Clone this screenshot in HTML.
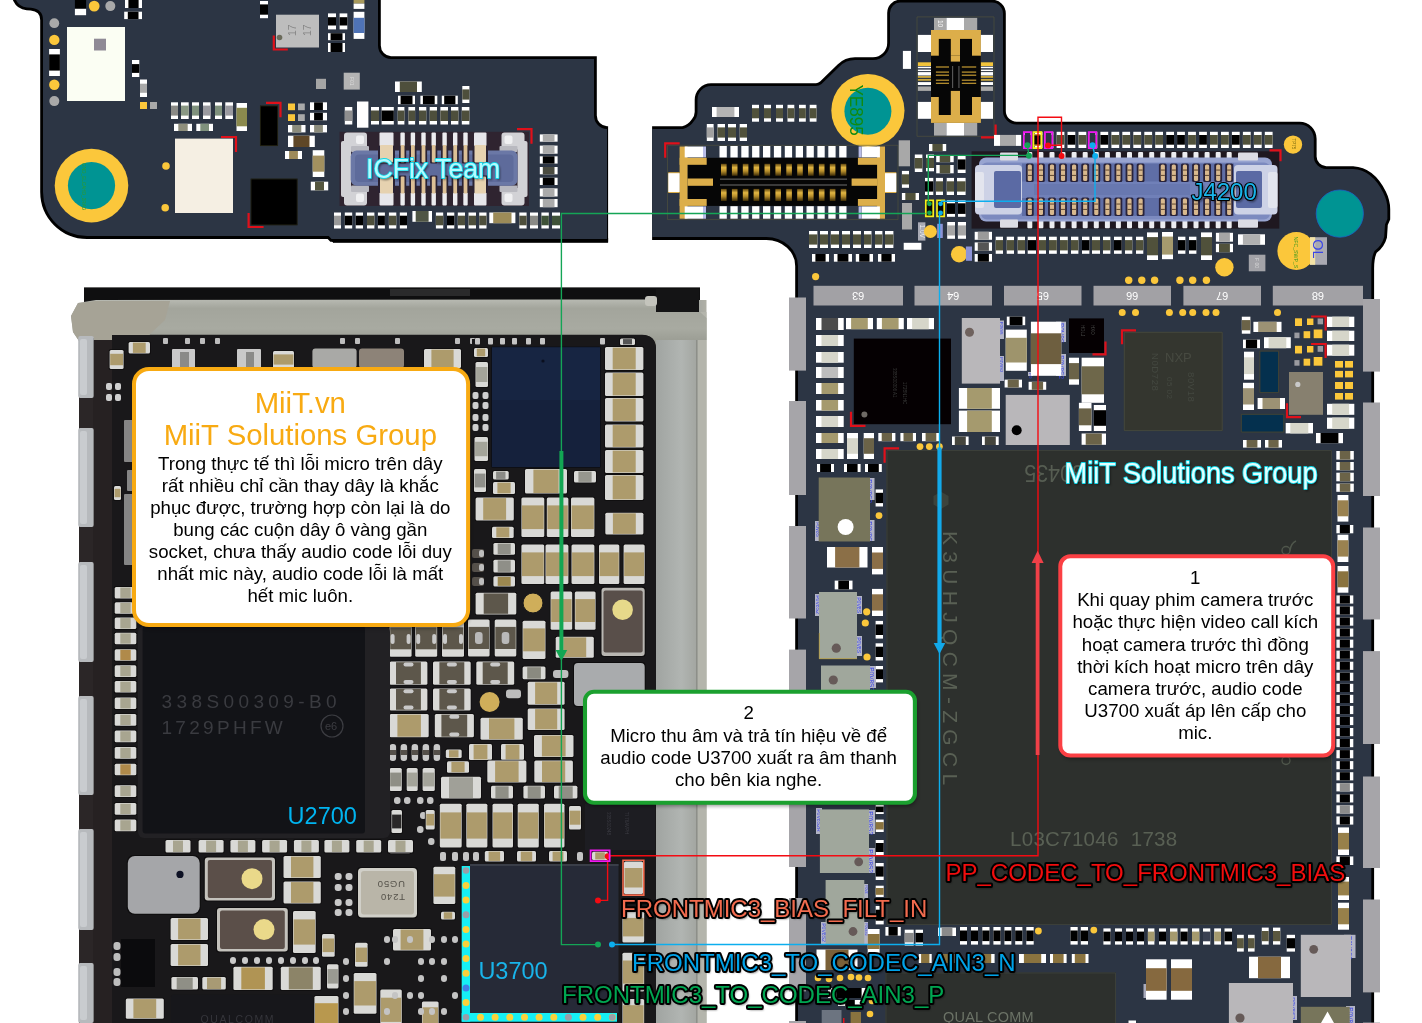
<!DOCTYPE html>
<html lang="vi"><head><meta charset="utf-8"><title>FRONTMIC3</title>
<style>
html,body{margin:0;padding:0;background:#fff;}
body{width:1422px;height:1023px;overflow:hidden;position:relative;font-family:"Liberation Sans",sans-serif;}
svg{position:absolute;left:0;top:0;display:block;will-change:transform;}
svg text{font-family:"Liberation Sans",sans-serif;}
.box{position:absolute;box-sizing:border-box;background:#fff;text-align:center;color:#000;font-size:18.67px;line-height:22.1px;}
</style></head><body>
<svg width="1422" height="1023" viewBox="0 0 1422 1023">
<path d="M16 0 Q19 6.5 27 7.5 L31 7.8 Q43 9 43 20 L43 192 A44 44.1 0 0 0 87 236.1 L328.7 236.1 L331.5 238.9 L607 238.9 L607 129 A13 13.5 0 0 1 594 115.5 L594 59 L391 59 A13 13.5 0 0 1 378 45.5 L378 0 Z" fill="#000" stroke="#000" stroke-width="5.6" stroke-linejoin="miter"/>
<rect x="608.1" y="122" width="3.9" height="124" fill="#fff"/>
<path d="M329.5 237 L333.3 240.8 L333.3 242.8 L329.5 239 Z" fill="#000"/>
<rect x="333" y="238" width="275.1" height="4.8" fill="#000"/>
<path d="M16 0 Q19 6.5 27 7.5 L31 7.8 Q43 9 43 20 L43 192 A44 44.1 0 0 0 87 236.1 L328.7 236.1 L331.5 238.9 L607 238.9 L607 129 A13 13.5 0 0 1 594 115.5 L594 59 L391 59 A13 13.5 0 0 1 378 45.5 L378 0 Z" fill="#2c3544"/>
<path d="M900 2.5 L992 2.5 A11 11 0 0 1 1003 13.5 L1003 111 A13.5 13.5 0 0 0 1016.5 124.5 L1299.5 124.5 A14.3 14.3 0 0 1 1313.8 138.8 L1313.8 156.5 A12.5 12.5 0 0 0 1326.3 169 L1353 169 Q1372 170 1383.3 192.7 Q1387.4 201 1387.4 209 L1387.4 219 L1385 224.5 L1384.2 237 Q1382 245.5 1374.5 251 Q1371.3 257 1371.3 268.4 L1371.3 1023 L798 1023 L798 266 A31.6 28.8 0 0 0 766.4 237.1 L652.1 237.1 L652.1 129 L683 129 Q690 127 694 121 Q697.5 117 697.5 112 L697.5 100 A13.5 14 0 0 1 711 86 L816 86 Q819 86 821.5 84 L839.5 66.5 Q846 60.1 855 60.1 L873 60.1 A17 17 0 0 0 890 43 L890 13 A10.3 10.5 0 0 1 900 2.5 Z" fill="#000" stroke="#000" stroke-width="5.6" stroke-linejoin="miter"/>
<rect x="647" y="122" width="5.1" height="122" fill="#fff"/>
<path d="M900 2.5 L992 2.5 A11 11 0 0 1 1003 13.5 L1003 111 A13.5 13.5 0 0 0 1016.5 124.5 L1299.5 124.5 A14.3 14.3 0 0 1 1313.8 138.8 L1313.8 156.5 A12.5 12.5 0 0 0 1326.3 169 L1353 169 Q1372 170 1383.3 192.7 Q1387.4 201 1387.4 209 L1387.4 219 L1385 224.5 L1384.2 237 Q1382 245.5 1374.5 251 Q1371.3 257 1371.3 268.4 L1371.3 1023 L798 1023 L798 266 A31.6 28.8 0 0 0 766.4 237.1 L652.1 237.1 L652.1 129 L683 129 Q690 127 694 121 Q697.5 117 697.5 112 L697.5 100 A13.5 14 0 0 1 711 86 L816 86 Q819 86 821.5 84 L839.5 66.5 Q846 60.1 855 60.1 L873 60.1 A17 17 0 0 0 890 43 L890 13 A10.3 10.5 0 0 1 900 2.5 Z" fill="#2c3544"/>
<rect x="789" y="297.5" width="17" height="73.1" fill="#a6a5a9"/>
<rect x="1363" y="299" width="17" height="72.6" fill="#a6a5a9"/>
<rect x="789" y="401" width="17" height="94" fill="#a6a5a9"/>
<rect x="1363" y="402.5" width="17" height="93.5" fill="#a6a5a9"/>
<rect x="789" y="526" width="17" height="92.5" fill="#a6a5a9"/>
<rect x="1363" y="527.5" width="17" height="92" fill="#a6a5a9"/>
<rect x="789" y="649.6" width="17" height="93.4" fill="#a6a5a9"/>
<rect x="1363" y="651.1" width="17" height="92.9" fill="#a6a5a9"/>
<rect x="789" y="775" width="17" height="92" fill="#a6a5a9"/>
<rect x="1363" y="776.5" width="17" height="91.5" fill="#a6a5a9"/>
<rect x="789" y="898" width="17" height="93.4" fill="#a6a5a9"/>
<rect x="1363" y="899.5" width="17" height="92.9" fill="#a6a5a9"/>
<rect x="789" y="1021" width="17" height="2" fill="#a6a5a9"/>
<rect x="1363" y="1022.5" width="17" height="1.5" fill="#a6a5a9"/>
<rect x="813.5" y="285.8" width="89.5" height="19.7" fill="#a2a1a5"/>
<text x="858.2" y="299.6" font-size="11" fill="#fff" text-anchor="middle" transform="rotate(180 858.2 295.8)">63</text>
<rect x="914.5" y="285.8" width="77.5" height="19.7" fill="#a2a1a5"/>
<text x="953.2" y="299.6" font-size="11" fill="#fff" text-anchor="middle" transform="rotate(180 953.2 295.8)">64</text>
<rect x="1004" y="285.8" width="77.5" height="19.7" fill="#a2a1a5"/>
<text x="1042.8" y="299.6" font-size="11" fill="#fff" text-anchor="middle" transform="rotate(180 1042.8 295.8)">65</text>
<rect x="1093.5" y="285.8" width="77.5" height="19.7" fill="#a2a1a5"/>
<text x="1132.2" y="299.6" font-size="11" fill="#fff" text-anchor="middle" transform="rotate(180 1132.2 295.8)">66</text>
<rect x="1183.4" y="285.8" width="77.6" height="19.7" fill="#a2a1a5"/>
<text x="1222.2" y="299.6" font-size="11" fill="#fff" text-anchor="middle" transform="rotate(180 1222.2 295.8)">67</text>
<rect x="1272.8" y="285.8" width="90.2" height="19.7" fill="#a2a1a5"/>
<text x="1317.9" y="299.6" font-size="11" fill="#fff" text-anchor="middle" transform="rotate(180 1317.9 295.8)">68</text>
<rect x="886.5" y="450" width="445.5" height="475" fill="#2d302d"/>
<path d="M887 450.5 L1331.5 450.5 L1331.5 924.5 L887 924.5 Z" fill="none" stroke="#3b3f39" stroke-width="1"/>
<text x="0" y="0" font-size="21.5" fill="#565d52" transform="translate(1084 465.2) rotate(180) scale(1 1.1)">30435</text>
<text x="0" y="0" font-size="21" fill="#596054" transform="translate(943.3 531) rotate(90)" letter-spacing="6.3">K3UHJQCM-ZGCL</text>
<text x="1010" y="846" font-size="20.5" fill="#596054" letter-spacing="0.3">L03C71046&#160;&#160;1738</text>
<path d="M933.5 496 l7.5 -4.3 l7.5 4.3 v8.6 l-7.5 4.3 l-7.5 -4.3 z" fill="#3d433c"/>
<circle cx="1286" cy="550.5" r="4" fill="none" stroke="#4f564b" stroke-width="1.4"/>
<path d="M1290 550.5 Q1291 543 1296 541" fill="none" stroke="#4f564b" stroke-width="1.4"/>
<circle cx="1286" cy="760.5" r="4" fill="none" stroke="#4f564b" stroke-width="1.4"/>
<rect x="885.5" y="972.5" width="230.5" height="50.5" fill="#2d302d"/>
<path d="M886 1023 L886 973 L1115.5 973 L1115.5 1023" fill="none" stroke="#3b3f39" stroke-width="1"/>
<text x="943" y="1022" font-size="14.5" fill="#6b7266" letter-spacing="0.2">QUAL COMM</text>
<rect x="74.9" y="0" width="11.2" height="8.8" fill="#000000"/>
<rect x="74.9" y="8.8" width="11.2" height="6.4" fill="#fff"/>
<circle cx="94.2" cy="6.1" r="5.4" fill="#fbc73b"/>
<circle cx="110.3" cy="6.1" r="5" fill="#a9a9a9"/>
<rect x="125" y="-2" width="17" height="10" fill="#ffffff"/>
<rect x="128.4" y="-2" width="10.2" height="10" fill="#000000"/>
<rect x="124.2" y="11.7" width="17.8" height="7.4" fill="#ffffff"/>
<rect x="127.8" y="11.7" width="10.7" height="7.4" fill="#000000"/>
<circle cx="54.3" cy="23.2" r="4.9" fill="#a9a9a9"/>
<circle cx="54.3" cy="39.9" r="5.2" fill="#fbc73b"/>
<rect x="49.1" y="49" width="10.8" height="27" fill="#ffffff"/>
<rect x="49.1" y="54.4" width="10.8" height="16.2" fill="#000000"/>
<circle cx="54.3" cy="84.7" r="5.2" fill="#fbc73b"/>
<circle cx="54.3" cy="101.1" r="5" fill="#a9a9a9"/>
<rect x="67" y="27" width="58" height="74" fill="#fbfef3"/>
<rect x="94" y="38.7" width="12" height="11.8" fill="#8f8a95"/>
<rect x="132" y="60" width="7.3" height="17" fill="#ffffff"/>
<rect x="132" y="64.1" width="7.3" height="8.8" fill="#000000"/>
<rect x="140" y="79.5" width="7" height="17.5" fill="#ffffff"/>
<rect x="140" y="83.7" width="7" height="9.1" fill="#a9a9a9"/>
<rect x="140" y="102" width="7" height="7" fill="#fbc73b"/>
<rect x="150" y="102" width="7" height="7" fill="#a9a9a9"/>
<rect x="171" y="102.3" width="7" height="16.7" fill="#ffffff"/>
<rect x="171" y="105.6" width="7" height="10" fill="#8a8a86"/>
<rect x="181" y="102.3" width="7.7" height="16.7" fill="#ffffff"/>
<rect x="181" y="105.6" width="7.7" height="10" fill="#8a9884"/>
<rect x="192" y="102.3" width="7" height="16.7" fill="#ffffff"/>
<rect x="192" y="105.6" width="7" height="10" fill="#7f917d"/>
<rect x="203" y="102.3" width="7.5" height="16.7" fill="#ffffff"/>
<rect x="203" y="105.6" width="7.5" height="10" fill="#9a9aa0"/>
<rect x="215" y="102.3" width="7" height="16.7" fill="#ffffff"/>
<rect x="215" y="105.6" width="7" height="10" fill="#7f917d"/>
<rect x="225.3" y="102.3" width="7.7" height="16.7" fill="#ffffff"/>
<rect x="225.3" y="105.6" width="7.7" height="10" fill="#9a9aa0"/>
<rect x="236.5" y="103" width="10.5" height="28" fill="#ffffff"/>
<rect x="236.5" y="107.8" width="10.5" height="18.5" fill="#8b8a4e"/>
<rect x="174" y="123.8" width="18" height="7.2" fill="#ffffff"/>
<rect x="178.3" y="123.8" width="9.4" height="7.2" fill="#8f8f7c"/>
<rect x="196.3" y="123.8" width="16.7" height="7.2" fill="#ffffff"/>
<rect x="200.3" y="123.8" width="8.7" height="7.2" fill="#7f917d"/>
<rect x="175" y="138.6" width="58" height="74.4" fill="#f5efe3"/>
<path d="M221 137 L236 137 L236 152" fill="none" stroke="#e0101a" stroke-width="2.2"/>
<circle cx="166" cy="166" r="3.8" fill="#fbc73b"/>
<circle cx="165.2" cy="207.8" r="3.8" fill="#fbc73b"/>
<circle cx="91.5" cy="185.6" r="36.8" fill="#fbc73b"/>
<circle cx="91.5" cy="185.6" r="23.6" fill="#009493"/>
<text x="0" y="0" font-size="4.7" fill="#2f9a2a" transform="translate(82.3 163) rotate(90)">GND_ELCAHD_2RAD</text>
<rect x="260" y="105.6" width="18" height="40.4" fill="#000000"/>
<path d="M260.3 105.9 h17.4 v39.8 h-17.4 z" fill="none" stroke="#3a3a20" stroke-width="0.6"/>
<path d="M266 102.8 L280.5 102.8 L280.5 117.3" fill="none" stroke="#e0101a" stroke-width="2.2"/>
<rect x="250.7" y="178.7" width="46.8" height="46.5" fill="#000000"/>
<path d="M251 179 h46.2 v45.9 h-46.2 z" fill="none" stroke="#33331f" stroke-width="0.6"/>
<path d="M263.6 227 L248.6 227 L248.6 213" fill="none" stroke="#e0101a" stroke-width="2.2"/>
<rect x="288" y="103.5" width="7" height="6.7" fill="#fbc73b"/>
<rect x="298" y="103.5" width="6.8" height="6.7" fill="#a9a9a9"/>
<rect x="288" y="114.2" width="7" height="6.8" fill="#fbc73b"/>
<rect x="298" y="114.2" width="6.8" height="6.8" fill="#a9a9a9"/>
<rect x="310" y="102.3" width="17" height="7.7" fill="#ffffff"/>
<rect x="314.1" y="102.3" width="8.8" height="7.7" fill="#000000"/>
<rect x="310" y="112.8" width="17" height="7.6" fill="#ffffff"/>
<rect x="314.1" y="112.8" width="8.8" height="7.6" fill="#000000"/>
<rect x="288" y="125" width="17.5" height="7.4" fill="#ffffff"/>
<rect x="292.2" y="125" width="9.1" height="7.4" fill="#8c8c7c"/>
<rect x="310" y="125" width="17" height="7.4" fill="#ffffff"/>
<rect x="314.1" y="125" width="8.8" height="7.4" fill="#8c8c7c"/>
<rect x="288" y="135.7" width="26.8" height="11.3" fill="#ffffff"/>
<rect x="293.4" y="135.7" width="16.1" height="11.3" fill="#5f4727"/>
<rect x="285" y="151" width="17" height="8" fill="#ffffff"/>
<rect x="289.1" y="151" width="8.8" height="8" fill="#9d8a5a"/>
<rect x="312.7" y="150.2" width="11.6" height="26.8" fill="#ffffff"/>
<rect x="312.7" y="155.6" width="11.6" height="16.1" fill="#a2905f"/>
<rect x="310.8" y="181.7" width="17.4" height="8.7" fill="#ffffff"/>
<rect x="315" y="181.7" width="9" height="8.7" fill="#55563f"/>
<rect x="276" y="14.7" width="43" height="32.8" fill="#bdbdbd"/>
<circle cx="279.5" cy="37.5" r="2.8" fill="#6a6a5a"/>
<path d="M287.8 49.5 L273.8 49.5 L273.8 35.5" fill="none" stroke="#e0101a" stroke-width="2.2"/>
<text x="0" y="0" font-size="10.5" fill="#858585" transform="translate(296 36) rotate(-90)">17</text>
<text x="0" y="0" font-size="10.5" fill="#858585" transform="translate(311 36) rotate(-90)">17</text>
<rect x="260" y="1" width="8" height="17.2" fill="#ffffff"/>
<rect x="260" y="4.4" width="8" height="10.3" fill="#000000"/>
<rect x="328" y="13.4" width="8" height="16" fill="#ffffff"/>
<rect x="328" y="17.2" width="8" height="8.3" fill="#000000"/>
<rect x="339.6" y="13.4" width="7.7" height="16" fill="#ffffff"/>
<rect x="339.6" y="17.2" width="7.7" height="8.3" fill="#000000"/>
<rect x="328" y="33.2" width="17" height="7" fill="#ffffff"/>
<rect x="330.6" y="33.2" width="11.9" height="7" fill="#000000"/>
<rect x="328" y="43" width="17" height="9" fill="#ffffff"/>
<rect x="330.6" y="43" width="11.9" height="9" fill="#000000"/>
<rect x="353.6" y="-2" width="10.8" height="5.6" fill="#a89a5c"/>
<rect x="353.6" y="3.6" width="10.8" height="5.3" fill="#fff"/>
<rect x="353.6" y="11.8" width="10.8" height="27.1" fill="#ffffff"/>
<rect x="353.6" y="17.8" width="10.8" height="15.2" fill="#4f73b6"/>
<rect x="316" y="78.8" width="10" height="10.2" fill="#a5a5a5"/>
<rect x="343.7" y="72.7" width="16.1" height="16.9" fill="#b4b4b4"/>
<text x="0" y="0" font-size="5" fill="#ddd" transform="translate(350 77) rotate(90)">F01</text>
<rect x="395" y="81.5" width="26.8" height="10.5" fill="#ffffff"/>
<rect x="399.8" y="81.5" width="17.2" height="10.5" fill="#4e4f3c"/>
<rect x="462.3" y="86" width="7.1" height="17" fill="#ffffff"/>
<rect x="462.3" y="89.4" width="7.1" height="10.2" fill="#4e4f3c"/>
<rect x="398" y="95.7" width="17" height="8.5" fill="#ffffff"/>
<rect x="400.6" y="95.7" width="11.9" height="8.5" fill="#000000"/>
<rect x="420.4" y="95.7" width="16.9" height="8.5" fill="#ffffff"/>
<rect x="422.9" y="95.7" width="11.8" height="8.5" fill="#000000"/>
<rect x="441.8" y="95.7" width="16" height="8.5" fill="#ffffff"/>
<rect x="444.2" y="95.7" width="11.2" height="8.5" fill="#000000"/>
<rect x="344.8" y="107" width="7.5" height="17.5" fill="#ffffff"/>
<rect x="344.8" y="110.5" width="7.5" height="10.5" fill="#8f8f8f"/>
<rect x="357" y="101.5" width="11.4" height="26.2" fill="#fff"/>
<rect x="371" y="107" width="8" height="17.5" fill="#ffffff"/>
<rect x="371" y="110.5" width="8" height="10.5" fill="#4e4f3c"/>
<rect x="381.6" y="107" width="12.2" height="17.5" fill="#ffffff"/>
<rect x="381.6" y="110.5" width="12.2" height="10.5" fill="#000000"/>
<rect x="397.7" y="107" width="6.7" height="17.5" fill="#ffffff"/>
<rect x="397.7" y="110.5" width="6.7" height="10.5" fill="#4e4f3c"/>
<rect x="408.4" y="107" width="6.7" height="17.5" fill="#ffffff"/>
<rect x="408.4" y="110.5" width="6.7" height="10.5" fill="#4e4f3c"/>
<rect x="419" y="107" width="7.3" height="17.5" fill="#ffffff"/>
<rect x="419" y="110.5" width="7.3" height="10.5" fill="#4e4f3c"/>
<rect x="429.7" y="107" width="7.3" height="17.5" fill="#ffffff"/>
<rect x="429.7" y="110.5" width="7.3" height="10.5" fill="#4e4f3c"/>
<rect x="440.4" y="107" width="7.6" height="17.5" fill="#ffffff"/>
<rect x="440.4" y="110.5" width="7.6" height="10.5" fill="#4e4f3c"/>
<rect x="451" y="107" width="7.4" height="17.5" fill="#ffffff"/>
<rect x="451" y="110.5" width="7.4" height="10.5" fill="#4e4f3c"/>
<rect x="461.8" y="107" width="7.6" height="17.5" fill="#ffffff"/>
<rect x="461.8" y="110.5" width="7.6" height="10.5" fill="#4e4f3c"/>
<rect x="539.8" y="134.4" width="17.8" height="7.3" fill="#ffffff"/>
<rect x="542.8" y="134.4" width="11.7" height="7.3" fill="#aaa"/>
<rect x="539.8" y="145.6" width="17.8" height="8.1" fill="#ffffff"/>
<rect x="542.8" y="145.6" width="11.7" height="8.1" fill="#aaa"/>
<rect x="539.8" y="156.3" width="17.8" height="7.3" fill="#ffffff"/>
<rect x="542.8" y="156.3" width="11.7" height="7.3" fill="#000000"/>
<rect x="539.8" y="167" width="17.8" height="7.3" fill="#ffffff"/>
<rect x="542.8" y="167" width="11.7" height="7.3" fill="#4a4b40"/>
<rect x="539.8" y="177.7" width="17.8" height="7.3" fill="#ffffff"/>
<rect x="542.8" y="177.7" width="11.7" height="7.3" fill="#000000"/>
<rect x="539.8" y="188.4" width="17.8" height="8.1" fill="#ffffff"/>
<rect x="542.8" y="188.4" width="11.7" height="8.1" fill="#aaa"/>
<rect x="539.8" y="199" width="17.8" height="8.2" fill="#ffffff"/>
<rect x="542.8" y="199" width="11.7" height="8.2" fill="#aaa"/>
<rect x="334" y="212.5" width="7" height="16" fill="#ffffff"/>
<rect x="334" y="215.7" width="7" height="9.6" fill="#9a9a9a"/>
<rect x="344.8" y="212.5" width="7.4" height="16" fill="#ffffff"/>
<rect x="344.8" y="215.7" width="7.4" height="9.6" fill="#000000"/>
<rect x="355.7" y="212.5" width="7.3" height="16" fill="#ffffff"/>
<rect x="355.7" y="215.7" width="7.3" height="9.6" fill="#000000"/>
<rect x="367" y="212.5" width="7.4" height="16" fill="#ffffff"/>
<rect x="367" y="215.7" width="7.4" height="9.6" fill="#4e4f3c"/>
<rect x="377.9" y="212.5" width="7" height="16" fill="#ffffff"/>
<rect x="377.9" y="215.7" width="7" height="9.6" fill="#000000"/>
<rect x="388.9" y="212.5" width="7.4" height="16" fill="#ffffff"/>
<rect x="388.9" y="215.7" width="7.4" height="9.6" fill="#4e4f3c"/>
<rect x="399.8" y="212.5" width="7.2" height="16" fill="#ffffff"/>
<rect x="399.8" y="215.7" width="7.2" height="9.6" fill="#000000"/>
<rect x="412.4" y="211" width="19.6" height="10.8" fill="#ffffff"/>
<rect x="415.7" y="211" width="12.9" height="10.8" fill="#4f5544"/>
<rect x="435.9" y="212.5" width="7.3" height="16" fill="#ffffff"/>
<rect x="435.9" y="215.7" width="7.3" height="9.6" fill="#4e4f3c"/>
<rect x="447" y="212.5" width="7.3" height="16" fill="#ffffff"/>
<rect x="447" y="215.7" width="7.3" height="9.6" fill="#000000"/>
<rect x="457.8" y="212.5" width="7.2" height="16" fill="#ffffff"/>
<rect x="457.8" y="215.7" width="7.2" height="9.6" fill="#4e4f3c"/>
<rect x="468.5" y="212.5" width="7.5" height="16" fill="#ffffff"/>
<rect x="468.5" y="215.7" width="7.5" height="9.6" fill="#4e4f3c"/>
<rect x="479.2" y="212.5" width="7.3" height="16" fill="#ffffff"/>
<rect x="479.2" y="215.7" width="7.3" height="9.6" fill="#4e4f3c"/>
<rect x="489.3" y="212.5" width="26.1" height="10.7" fill="#ffffff"/>
<rect x="493.2" y="212.5" width="18.3" height="10.7" fill="#9c8b58"/>
<rect x="519.3" y="212.5" width="7.3" height="16" fill="#ffffff"/>
<rect x="519.3" y="215.7" width="7.3" height="9.6" fill="#4e4f3c"/>
<rect x="530" y="212.5" width="8" height="16" fill="#ffffff"/>
<rect x="530" y="215.7" width="8" height="9.6" fill="#8a8a86"/>
<rect x="541.4" y="212.5" width="7.4" height="16" fill="#ffffff"/>
<rect x="541.4" y="215.7" width="7.4" height="9.6" fill="#3f5238"/>
<rect x="552" y="212.5" width="8" height="16" fill="#ffffff"/>
<rect x="552" y="215.7" width="8" height="9.6" fill="#3f5238"/>
<rect x="339.5" y="131.8" width="189.5" height="74.2" fill="#2f2430"/>
<rect x="341" y="141" width="10" height="56" fill="#d2d2d6" rx="2"/>
<rect x="344" y="132.6" width="23" height="16.9" fill="#d2d2d6" rx="3"/>
<rect x="344" y="188" width="23" height="17.5" fill="#d2d2d6" rx="3"/>
<rect x="351" y="146" width="18" height="6" fill="#b9b9c0" rx="1"/>
<rect x="351" y="185.5" width="18" height="6.5" fill="#b9b9c0" rx="1"/>
<rect x="356" y="135.5" width="8" height="8.5" fill="#f0f0f2" rx="2"/>
<rect x="356" y="193.5" width="8" height="8.5" fill="#f0f0f2" rx="2"/>
<rect x="517.5" y="141" width="10" height="56" fill="#d2d2d6" rx="2"/>
<rect x="501.5" y="132.6" width="23" height="16.9" fill="#d2d2d6" rx="3"/>
<rect x="501.5" y="188" width="23" height="17.5" fill="#d2d2d6" rx="3"/>
<rect x="499.5" y="146" width="18" height="6" fill="#b9b9c0" rx="1"/>
<rect x="499.5" y="185.5" width="18" height="6.5" fill="#b9b9c0" rx="1"/>
<rect x="504.5" y="135.5" width="8" height="8.5" fill="#f0f0f2" rx="2"/>
<rect x="504.5" y="193.5" width="8" height="8.5" fill="#f0f0f2" rx="2"/>
<rect x="400.4" y="132.6" width="4.4" height="13.4" fill="#ececf0" rx="1"/>
<rect x="400.4" y="192.5" width="4.4" height="13" fill="#ececf0" rx="1"/>
<rect x="410.7" y="132.6" width="4.4" height="13.4" fill="#ececf0" rx="1"/>
<rect x="410.7" y="192.5" width="4.4" height="13" fill="#ececf0" rx="1"/>
<rect x="421.3" y="132.6" width="4.4" height="13.4" fill="#ececf0" rx="1"/>
<rect x="421.3" y="192.5" width="4.4" height="13" fill="#ececf0" rx="1"/>
<rect x="431.5" y="132.6" width="4.4" height="13.4" fill="#ececf0" rx="1"/>
<rect x="431.5" y="192.5" width="4.4" height="13" fill="#ececf0" rx="1"/>
<rect x="442.4" y="132.6" width="4.4" height="13.4" fill="#ececf0" rx="1"/>
<rect x="442.4" y="192.5" width="4.4" height="13" fill="#ececf0" rx="1"/>
<rect x="453" y="132.6" width="4.4" height="13.4" fill="#ececf0" rx="1"/>
<rect x="453" y="192.5" width="4.4" height="13" fill="#ececf0" rx="1"/>
<rect x="463.3" y="132.6" width="4.4" height="13.4" fill="#ececf0" rx="1"/>
<rect x="463.3" y="192.5" width="4.4" height="13" fill="#ececf0" rx="1"/>
<rect x="379.5" y="132.6" width="14" height="13.4" fill="#e6e6ea" rx="1"/>
<rect x="379.5" y="192.5" width="14" height="13" fill="#e6e6ea" rx="1"/>
<rect x="474" y="132.6" width="12.5" height="13.4" fill="#e6e6ea" rx="1"/>
<rect x="474" y="192.5" width="12.5" height="13" fill="#e6e6ea" rx="1"/>
<rect x="350.7" y="150.5" width="166.9" height="35.3" fill="#6b78a6" rx="6"/>
<rect x="355" y="154.5" width="158.5" height="27.5" fill="#5e6b9b" rx="4"/>
<rect x="399" y="146" width="7.2" height="17.5" fill="#2a2233" rx="1"/>
<rect x="399" y="175.5" width="7.2" height="17" fill="#2a2233" rx="1"/>
<rect x="400.7" y="145" width="3.8" height="17.5" fill="#dcc096" rx="1"/>
<rect x="400.7" y="176.5" width="3.8" height="17" fill="#dcc096" rx="1"/>
<rect x="409.3" y="146" width="7.2" height="17.5" fill="#2a2233" rx="1"/>
<rect x="409.3" y="175.5" width="7.2" height="17" fill="#2a2233" rx="1"/>
<rect x="411" y="145" width="3.8" height="17.5" fill="#dcc096" rx="1"/>
<rect x="411" y="176.5" width="3.8" height="17" fill="#dcc096" rx="1"/>
<rect x="419.9" y="146" width="7.2" height="17.5" fill="#2a2233" rx="1"/>
<rect x="419.9" y="175.5" width="7.2" height="17" fill="#2a2233" rx="1"/>
<rect x="421.6" y="145" width="3.8" height="17.5" fill="#dcc096" rx="1"/>
<rect x="421.6" y="176.5" width="3.8" height="17" fill="#dcc096" rx="1"/>
<rect x="430.1" y="146" width="7.2" height="17.5" fill="#2a2233" rx="1"/>
<rect x="430.1" y="175.5" width="7.2" height="17" fill="#2a2233" rx="1"/>
<rect x="431.8" y="145" width="3.8" height="17.5" fill="#dcc096" rx="1"/>
<rect x="431.8" y="176.5" width="3.8" height="17" fill="#dcc096" rx="1"/>
<rect x="441" y="146" width="7.2" height="17.5" fill="#2a2233" rx="1"/>
<rect x="441" y="175.5" width="7.2" height="17" fill="#2a2233" rx="1"/>
<rect x="442.7" y="145" width="3.8" height="17.5" fill="#dcc096" rx="1"/>
<rect x="442.7" y="176.5" width="3.8" height="17" fill="#dcc096" rx="1"/>
<rect x="451.6" y="146" width="7.2" height="17.5" fill="#2a2233" rx="1"/>
<rect x="451.6" y="175.5" width="7.2" height="17" fill="#2a2233" rx="1"/>
<rect x="453.3" y="145" width="3.8" height="17.5" fill="#dcc096" rx="1"/>
<rect x="453.3" y="176.5" width="3.8" height="17" fill="#dcc096" rx="1"/>
<rect x="461.9" y="146" width="7.2" height="17.5" fill="#2a2233" rx="1"/>
<rect x="461.9" y="175.5" width="7.2" height="17" fill="#2a2233" rx="1"/>
<rect x="463.6" y="145" width="3.8" height="17.5" fill="#dcc096" rx="1"/>
<rect x="463.6" y="176.5" width="3.8" height="17" fill="#dcc096" rx="1"/>
<rect x="378" y="146" width="17" height="17.5" fill="#2a2233" rx="1"/>
<rect x="378" y="175.5" width="17" height="17" fill="#2a2233" rx="1"/>
<rect x="380" y="145" width="13" height="17.5" fill="#e6d2b0" rx="1"/>
<rect x="380" y="176.5" width="13" height="17" fill="#e6d2b0" rx="1"/>
<rect x="472.5" y="146" width="15.5" height="17.5" fill="#2a2233" rx="1"/>
<rect x="472.5" y="175.5" width="15.5" height="17" fill="#2a2233" rx="1"/>
<rect x="474.5" y="145" width="11.5" height="17.5" fill="#e6d2b0" rx="1"/>
<rect x="474.5" y="176.5" width="11.5" height="17" fill="#e6d2b0" rx="1"/>
<path d="M517 129.2 L531.5 129.2 L531.5 143.7" fill="none" stroke="#e0101a" stroke-width="2.2"/>
<rect x="712" y="107" width="27" height="10" fill="#ffffff"/>
<rect x="716.6" y="107" width="17.8" height="10" fill="#b4b4b4"/>
<rect x="752" y="104.8" width="7" height="16.9" fill="#ffffff"/>
<rect x="752" y="108.2" width="7" height="10.1" fill="#50513b"/>
<rect x="764" y="104.8" width="7" height="16.9" fill="#ffffff"/>
<rect x="764" y="108.2" width="7" height="10.1" fill="#50513b"/>
<rect x="776" y="104.8" width="7" height="16.9" fill="#ffffff"/>
<rect x="776" y="108.2" width="7" height="10.1" fill="#50513b"/>
<rect x="787.5" y="104.8" width="6.8" height="16.9" fill="#ffffff"/>
<rect x="787.5" y="108.2" width="6.8" height="10.1" fill="#50513b"/>
<rect x="799" y="104.8" width="6.8" height="16.9" fill="#ffffff"/>
<rect x="799" y="108.2" width="6.8" height="10.1" fill="#50513b"/>
<rect x="809.7" y="104.8" width="6.8" height="16.9" fill="#ffffff"/>
<rect x="809.7" y="108.2" width="6.8" height="10.1" fill="#50513b"/>
<rect x="706.8" y="124" width="6.8" height="17" fill="#ffffff"/>
<rect x="706.8" y="127.4" width="6.8" height="10.2" fill="#a0a0a0"/>
<rect x="717.5" y="124" width="7.5" height="17" fill="#ffffff"/>
<rect x="717.5" y="127.4" width="7.5" height="10.2" fill="#50513b"/>
<rect x="728" y="124" width="8" height="17" fill="#ffffff"/>
<rect x="728" y="127.4" width="8" height="10.2" fill="#50513b"/>
<rect x="739.7" y="124" width="7.3" height="17" fill="#ffffff"/>
<rect x="739.7" y="127.4" width="7.3" height="10.2" fill="#50513b"/>
<circle cx="867.9" cy="110.5" r="36.6" fill="#fbc73b"/>
<circle cx="867.9" cy="111.2" r="23.5" fill="#009493"/>
<text x="0" y="0" font-size="17.1" fill="#108a10" transform="translate(849.8 84.4) rotate(90) scale(1 1.07)">YE895</text>
<defs><linearGradient id="gc" x1="0" y1="0" x2="0" y2="1"><stop offset="0" stop-color="#5e450f"/><stop offset="0.32" stop-color="#e2b643"/><stop offset="0.6" stop-color="#b88f2c"/><stop offset="1" stop-color="#3d2c07"/></linearGradient></defs>
<path d="M667.5 145.3 H898 V219.6 H667.5 Z" fill="none" stroke="#55563a" stroke-width="0.6"/>
<rect x="719.5" y="146" width="7.3" height="11.6" fill="#fff"/>
<rect x="719.5" y="206.2" width="7.3" height="12.5" fill="#fff"/>
<rect x="730.4" y="146" width="7.3" height="11.6" fill="#fff"/>
<rect x="730.4" y="206.2" width="7.3" height="12.5" fill="#fff"/>
<rect x="741.3" y="146" width="7.3" height="11.6" fill="#fff"/>
<rect x="741.3" y="206.2" width="7.3" height="12.5" fill="#fff"/>
<rect x="752.1" y="146" width="7.3" height="11.6" fill="#fff"/>
<rect x="752.1" y="206.2" width="7.3" height="12.5" fill="#fff"/>
<rect x="763" y="146" width="7.3" height="11.6" fill="#fff"/>
<rect x="763" y="206.2" width="7.3" height="12.5" fill="#fff"/>
<rect x="773.9" y="146" width="7.3" height="11.6" fill="#fff"/>
<rect x="773.9" y="206.2" width="7.3" height="12.5" fill="#fff"/>
<rect x="784.8" y="146" width="7.3" height="11.6" fill="#fff"/>
<rect x="784.8" y="206.2" width="7.3" height="12.5" fill="#fff"/>
<rect x="795.7" y="146" width="7.3" height="11.6" fill="#fff"/>
<rect x="795.7" y="206.2" width="7.3" height="12.5" fill="#fff"/>
<rect x="806.5" y="146" width="7.3" height="11.6" fill="#fff"/>
<rect x="806.5" y="206.2" width="7.3" height="12.5" fill="#fff"/>
<rect x="817.4" y="146" width="7.3" height="11.6" fill="#fff"/>
<rect x="817.4" y="206.2" width="7.3" height="12.5" fill="#fff"/>
<rect x="828.3" y="146" width="7.3" height="11.6" fill="#fff"/>
<rect x="828.3" y="206.2" width="7.3" height="12.5" fill="#fff"/>
<rect x="839.2" y="146" width="7.3" height="11.6" fill="#fff"/>
<rect x="839.2" y="206.2" width="7.3" height="12.5" fill="#fff"/>
<rect x="687.5" y="157.8" width="190.1" height="48.1" fill="#060606"/>
<rect x="679.6" y="146.5" width="7.9" height="72.2" fill="#dcae4a"/>
<rect x="679.6" y="157.8" width="27.1" height="7" fill="#dcae4a"/>
<rect x="679.6" y="199" width="27.1" height="6.9" fill="#dcae4a"/>
<rect x="687.5" y="178.5" width="25.5" height="7.3" fill="#dcae4a"/>
<rect x="684.7" y="146.5" width="18.3" height="10.9" fill="#fff"/>
<rect x="684.7" y="206.4" width="18.3" height="12.3" fill="#fff"/>
<rect x="703" y="146.5" width="3" height="10.9" fill="#b9bde8"/>
<rect x="703" y="206.4" width="3" height="12.3" fill="#b9bde8"/>
<rect x="668.3" y="172.2" width="11.3" height="20.8" fill="#dcae4a"/>
<rect x="668.3" y="173.2" width="11.3" height="18.8" fill="#fff"/>
<rect x="877.1" y="146.5" width="7.9" height="72.2" fill="#dcae4a"/>
<rect x="857.9" y="157.8" width="27.1" height="7" fill="#dcae4a"/>
<rect x="857.9" y="199" width="27.1" height="6.9" fill="#dcae4a"/>
<rect x="851.6" y="178.5" width="25.5" height="7.3" fill="#dcae4a"/>
<rect x="861.6" y="146.5" width="18.3" height="10.9" fill="#fff"/>
<rect x="861.6" y="206.4" width="18.3" height="12.3" fill="#fff"/>
<rect x="858.6" y="146.5" width="3" height="10.9" fill="#b9bde8"/>
<rect x="858.6" y="206.4" width="3" height="12.3" fill="#b9bde8"/>
<rect x="885" y="172.2" width="11.3" height="20.8" fill="#dcae4a"/>
<rect x="885" y="173.2" width="11.3" height="18.8" fill="#fff"/>
<rect x="721" y="163.8" width="5.6" height="12" fill="url(#gc)"/>
<rect x="721" y="188.9" width="5.6" height="12.1" fill="url(#gc)"/>
<rect x="731.9" y="163.8" width="5.6" height="12" fill="url(#gc)"/>
<rect x="731.9" y="188.9" width="5.6" height="12.1" fill="url(#gc)"/>
<rect x="742.8" y="163.8" width="5.6" height="12" fill="url(#gc)"/>
<rect x="742.8" y="188.9" width="5.6" height="12.1" fill="url(#gc)"/>
<rect x="753.6" y="163.8" width="5.6" height="12" fill="url(#gc)"/>
<rect x="753.6" y="188.9" width="5.6" height="12.1" fill="url(#gc)"/>
<rect x="764.5" y="163.8" width="5.6" height="12" fill="url(#gc)"/>
<rect x="764.5" y="188.9" width="5.6" height="12.1" fill="url(#gc)"/>
<rect x="775.4" y="163.8" width="5.6" height="12" fill="url(#gc)"/>
<rect x="775.4" y="188.9" width="5.6" height="12.1" fill="url(#gc)"/>
<rect x="786.3" y="163.8" width="5.6" height="12" fill="url(#gc)"/>
<rect x="786.3" y="188.9" width="5.6" height="12.1" fill="url(#gc)"/>
<rect x="797.2" y="163.8" width="5.6" height="12" fill="url(#gc)"/>
<rect x="797.2" y="188.9" width="5.6" height="12.1" fill="url(#gc)"/>
<rect x="808" y="163.8" width="5.6" height="12" fill="url(#gc)"/>
<rect x="808" y="188.9" width="5.6" height="12.1" fill="url(#gc)"/>
<rect x="818.9" y="163.8" width="5.6" height="12" fill="url(#gc)"/>
<rect x="818.9" y="188.9" width="5.6" height="12.1" fill="url(#gc)"/>
<rect x="829.8" y="163.8" width="5.6" height="12" fill="url(#gc)"/>
<rect x="829.8" y="188.9" width="5.6" height="12.1" fill="url(#gc)"/>
<rect x="840.7" y="163.8" width="5.6" height="12" fill="url(#gc)"/>
<rect x="840.7" y="188.9" width="5.6" height="12.1" fill="url(#gc)"/>
<rect x="720" y="178.7" width="127" height="0.8" fill="#8a8a8a"/>
<rect x="720" y="184.6" width="127" height="0.8" fill="#8a8a8a"/>
<path d="M679.7 143.3 L665.2 143.3 L665.2 157.8" fill="none" stroke="#e0101a" stroke-width="2.2"/>
<path d="M917 16.9 H994 V136.3 H917 Z" fill="none" stroke="#55563a" stroke-width="0.6"/>
<rect x="934" y="17.9" width="12.4" height="12.1" fill="#a9a9a9"/>
<rect x="946.4" y="17.9" width="17.6" height="12.1" fill="#fff"/>
<rect x="964" y="17.9" width="13.2" height="12.1" fill="#a9a9a9"/>
<rect x="934" y="122.9" width="12.4" height="12.7" fill="#a9a9a9"/>
<rect x="946.4" y="122.9" width="17.6" height="12.7" fill="#fff"/>
<rect x="964" y="122.9" width="13.2" height="12.7" fill="#a9a9a9"/>
<text x="0" y="0" font-size="6.5" fill="#fff" transform="translate(937.5 20) rotate(90)">10</text>
<rect x="931" y="30" width="49.9" height="92.9" fill="#dcae4a"/>
<rect x="931" y="55.7" width="49.9" height="41.3" fill="#060606"/>
<rect x="938.8" y="38.9" width="12" height="21.1" fill="#060606"/>
<rect x="938.8" y="92" width="12" height="23" fill="#060606"/>
<rect x="960" y="38.9" width="12" height="21.1" fill="#060606"/>
<rect x="960" y="92" width="12" height="23" fill="#060606"/>
<rect x="950.8" y="55.7" width="9.2" height="5.9" fill="#dcae4a"/>
<rect x="950.8" y="90.9" width="9.2" height="6.1" fill="#dcae4a"/>
<rect x="935.9" y="66.4" width="13.1" height="1.2" fill="#c49a32"/>
<rect x="961.8" y="66.4" width="14.4" height="1.2" fill="#c49a32"/>
<rect x="935.9" y="71.5" width="13.1" height="1.2" fill="#c49a32"/>
<rect x="961.8" y="71.5" width="14.4" height="1.2" fill="#c49a32"/>
<rect x="935.9" y="74.6" width="13.1" height="1.2" fill="#c49a32"/>
<rect x="961.8" y="74.6" width="14.4" height="1.2" fill="#c49a32"/>
<rect x="935.9" y="79.6" width="13.1" height="1.2" fill="#c49a32"/>
<rect x="961.8" y="79.6" width="14.4" height="1.2" fill="#c49a32"/>
<rect x="935.9" y="82.7" width="13.1" height="1.2" fill="#c49a32"/>
<rect x="961.8" y="82.7" width="14.4" height="1.2" fill="#c49a32"/>
<rect x="952.4" y="66" width="0.7" height="22" fill="#8a8a8a"/>
<rect x="958.6" y="66" width="0.7" height="22" fill="#8a8a8a"/>
<rect x="917.9" y="34.9" width="13.1" height="17.1" fill="#fff"/>
<rect x="917.9" y="101.9" width="13.1" height="16.9" fill="#fff"/>
<rect x="917.9" y="62.3" width="13.1" height="3.7" fill="#f2c43c"/>
<rect x="917.9" y="66.7" width="13.1" height="1.5" fill="#fff"/>
<rect x="917.9" y="69.6" width="13.1" height="1.5" fill="#fff"/>
<rect x="917.9" y="72.1" width="13.1" height="3.4" fill="#fff"/>
<rect x="917.9" y="76.2" width="13.1" height="1.5" fill="#f2c43c"/>
<rect x="917.9" y="79.2" width="13.1" height="1.4" fill="#f2c43c"/>
<rect x="917.9" y="82.1" width="13.1" height="2.9" fill="#fff"/>
<rect x="917.9" y="86.5" width="13.1" height="4.4" fill="#a9a9a9"/>
<rect x="980.9" y="34.9" width="12.1" height="17.1" fill="#fff"/>
<rect x="980.9" y="101.9" width="12.1" height="16.9" fill="#fff"/>
<rect x="980.9" y="62.3" width="12.1" height="3.7" fill="#f2c43c"/>
<rect x="980.9" y="66.7" width="12.1" height="1.5" fill="#fff"/>
<rect x="980.9" y="69.6" width="12.1" height="1.5" fill="#fff"/>
<rect x="980.9" y="72.1" width="12.1" height="3.4" fill="#fff"/>
<rect x="980.9" y="76.2" width="12.1" height="1.5" fill="#f2c43c"/>
<rect x="980.9" y="79.2" width="12.1" height="1.4" fill="#f2c43c"/>
<rect x="980.9" y="82.1" width="12.1" height="2.9" fill="#fff"/>
<rect x="980.9" y="86.5" width="12.1" height="4.4" fill="#a9a9a9"/>
<rect x="902.9" y="50.9" width="8.1" height="18" fill="#fff"/>
<path d="M981 137.4 L995.6 137.4 L995.6 124.6" fill="none" stroke="#e0101a" stroke-width="2.2"/>
<rect x="994" y="134.9" width="6" height="11" fill="#fff"/>
<rect x="1000" y="134.9" width="16" height="11" fill="#a9a9a9"/>
<rect x="1016" y="134.9" width="5.2" height="11" fill="#fff"/>
<rect x="898.7" y="140.3" width="11.3" height="26" fill="#a8a8a8"/>
<rect x="902" y="203" width="10" height="26.5" fill="#a8a8a8"/>
<rect x="929" y="144" width="17.2" height="7.1" fill="#ffffff"/>
<rect x="932.4" y="144" width="10.3" height="7.1" fill="#50513b"/>
<rect x="914.8" y="154.5" width="7.6" height="17.5" fill="#ffffff"/>
<rect x="914.8" y="158" width="7.6" height="10.5" fill="#50513b"/>
<rect x="926" y="154.5" width="8" height="16.8" fill="#ffffff"/>
<rect x="926" y="157.9" width="8" height="10.1" fill="#50513b"/>
<rect x="936.2" y="155.8" width="17.5" height="6.4" fill="#ffffff"/>
<rect x="939.7" y="155.8" width="10.5" height="6.4" fill="#50513b"/>
<rect x="936.2" y="165" width="17.5" height="8.3" fill="#ffffff"/>
<rect x="939.7" y="165" width="10.5" height="8.3" fill="#50513b"/>
<rect x="957.7" y="156" width="7.9" height="17" fill="#ffffff"/>
<rect x="957.7" y="159.4" width="7.9" height="10.2" fill="#000000"/>
<rect x="901.9" y="170.9" width="7.1" height="16.9" fill="#ffffff"/>
<rect x="901.9" y="174.3" width="7.1" height="10.1" fill="#50513b"/>
<rect x="901.9" y="193" width="17.1" height="7" fill="#ffffff"/>
<rect x="905.3" y="193" width="10.3" height="7" fill="#50513b"/>
<rect x="925" y="177.9" width="8.3" height="17.1" fill="#ffffff"/>
<rect x="925" y="181.3" width="8.3" height="10.3" fill="#000000"/>
<rect x="935.9" y="177.9" width="7.1" height="17.1" fill="#ffffff"/>
<rect x="935.9" y="181.3" width="7.1" height="10.3" fill="#50513b"/>
<rect x="946.7" y="177.9" width="7.3" height="17.1" fill="#ffffff"/>
<rect x="946.7" y="181.3" width="7.3" height="10.3" fill="#50513b"/>
<rect x="957" y="177.9" width="8.6" height="17.1" fill="#ffffff"/>
<rect x="957" y="181.3" width="8.6" height="10.3" fill="#50513b"/>
<rect x="925.6" y="200.2" width="7.8" height="16.4" fill="#050505"/>
<rect x="936.8" y="200.2" width="7.6" height="16.4" fill="#050505"/>
<path d="M925.8 200.4 h7.4 v16 h-7.4 z" fill="none" stroke="#f7f01a" stroke-width="1.7"/>
<path d="M937 200.4 h7.2 v16 h-7.2 z" fill="none" stroke="#f7f01a" stroke-width="1.7"/>
<rect x="947" y="200.3" width="8" height="16.5" fill="#ffffff"/>
<rect x="947" y="203.3" width="8" height="10.6" fill="#000000"/>
<rect x="958" y="200.3" width="7.6" height="16.5" fill="#ffffff"/>
<rect x="958" y="203.3" width="7.6" height="10.6" fill="#000000"/>
<rect x="918" y="222.3" width="7.4" height="18.3" fill="#a9aab4"/>
<text x="0" y="0" font-size="6.5" fill="#eee" transform="translate(919.5 224.5) rotate(90)">1.0V</text>
<circle cx="930.4" cy="231.5" r="6.5" fill="#fbc73b"/>
<rect x="937.2" y="223.8" width="5.6" height="14.2" fill="#8d93d6"/>
<rect x="947.2" y="222" width="7.8" height="16.8" fill="#ffffff"/>
<rect x="947.2" y="225.4" width="7.8" height="10.1" fill="#a5a5a5"/>
<rect x="957.9" y="222" width="8.1" height="16.8" fill="#ffffff"/>
<rect x="957.9" y="225.4" width="8.1" height="10.1" fill="#a5a5a5"/>
<rect x="903.7" y="242.8" width="17.7" height="7" fill="#fff"/>
<circle cx="959.1" cy="254.3" r="8.2" fill="#fbc73b"/>
<rect x="965.9" y="246.5" width="6.1" height="14.3" fill="#8d93d6"/>
<rect x="974.7" y="231.8" width="17.3" height="8" fill="#ffffff"/>
<rect x="977.8" y="231.8" width="11.1" height="8" fill="#9a9a9a"/>
<rect x="974.7" y="242.4" width="17.3" height="8.4" fill="#ffffff"/>
<rect x="977.8" y="242.4" width="11.1" height="8.4" fill="#555555"/>
<rect x="974.7" y="254" width="17.3" height="7.7" fill="#ffffff"/>
<rect x="977.8" y="254" width="11.1" height="7.7" fill="#000000"/>
<rect x="809" y="231" width="8.4" height="17" fill="#ffffff"/>
<rect x="809" y="234.4" width="8.4" height="10.2" fill="#50513b"/>
<rect x="820" y="231" width="8" height="17" fill="#ffffff"/>
<rect x="820" y="234.4" width="8" height="10.2" fill="#50513b"/>
<rect x="830.8" y="231" width="8.2" height="17" fill="#ffffff"/>
<rect x="830.8" y="234.4" width="8.2" height="10.2" fill="#50513b"/>
<rect x="842" y="231" width="8" height="17" fill="#ffffff"/>
<rect x="842" y="234.4" width="8" height="10.2" fill="#50513b"/>
<rect x="853" y="231" width="8" height="17" fill="#ffffff"/>
<rect x="853" y="234.4" width="8" height="10.2" fill="#50513b"/>
<rect x="864" y="231" width="7.5" height="17" fill="#ffffff"/>
<rect x="864" y="234.4" width="7.5" height="10.2" fill="#50513b"/>
<rect x="875" y="231" width="7.4" height="17" fill="#ffffff"/>
<rect x="875" y="234.4" width="7.4" height="10.2" fill="#50513b"/>
<rect x="885" y="231" width="8.4" height="17" fill="#ffffff"/>
<rect x="885" y="234.4" width="8.4" height="10.2" fill="#50513b"/>
<rect x="812" y="254" width="17" height="7.7" fill="#ffffff"/>
<rect x="815.4" y="254" width="10.2" height="7.7" fill="#000000"/>
<rect x="833.9" y="254" width="18.1" height="7.7" fill="#ffffff"/>
<rect x="837.5" y="254" width="10.9" height="7.7" fill="#000000"/>
<rect x="855.8" y="254" width="17.2" height="7.7" fill="#ffffff"/>
<rect x="859.2" y="254" width="10.3" height="7.7" fill="#000000"/>
<rect x="878" y="254" width="17" height="7.7" fill="#ffffff"/>
<rect x="881.4" y="254" width="10.2" height="7.7" fill="#000000"/>
<circle cx="815.6" cy="276.6" r="3.6" fill="#fbc73b"/>
<rect x="995.7" y="236.7" width="7.3" height="17.1" fill="#ffffff"/>
<rect x="995.7" y="240.1" width="7.3" height="10.3" fill="#50513b"/>
<rect x="1006.7" y="236.7" width="7.3" height="17.1" fill="#ffffff"/>
<rect x="1006.7" y="240.1" width="7.3" height="10.3" fill="#50513b"/>
<rect x="1017.6" y="236.7" width="7.4" height="17.1" fill="#ffffff"/>
<rect x="1017.6" y="240.1" width="7.4" height="10.3" fill="#50513b"/>
<rect x="1027.7" y="236.7" width="8.3" height="17.1" fill="#ffffff"/>
<rect x="1027.7" y="240.1" width="8.3" height="10.3" fill="#000000"/>
<rect x="1038.7" y="236.7" width="7.3" height="17.1" fill="#ffffff"/>
<rect x="1038.7" y="240.1" width="7.3" height="10.3" fill="#50513b"/>
<rect x="1049" y="236.7" width="7.8" height="17.1" fill="#ffffff"/>
<rect x="1049" y="240.1" width="7.8" height="10.3" fill="#50513b"/>
<rect x="1060" y="236.7" width="7.8" height="17.1" fill="#ffffff"/>
<rect x="1060" y="240.1" width="7.8" height="10.3" fill="#50513b"/>
<rect x="1071" y="236.7" width="7.4" height="17.1" fill="#ffffff"/>
<rect x="1071" y="240.1" width="7.4" height="10.3" fill="#50513b"/>
<rect x="1082" y="236.7" width="7.4" height="17.1" fill="#ffffff"/>
<rect x="1082" y="240.1" width="7.4" height="10.3" fill="#000000"/>
<rect x="1092" y="236.7" width="8" height="17.1" fill="#ffffff"/>
<rect x="1092" y="240.1" width="8" height="10.3" fill="#50513b"/>
<rect x="1103" y="236.7" width="7.4" height="17.1" fill="#ffffff"/>
<rect x="1103" y="240.1" width="7.4" height="10.3" fill="#50513b"/>
<rect x="1114" y="236.7" width="7.7" height="17.1" fill="#ffffff"/>
<rect x="1114" y="240.1" width="7.7" height="10.3" fill="#000000"/>
<rect x="1125" y="236.7" width="7.3" height="17.1" fill="#ffffff"/>
<rect x="1125" y="240.1" width="7.3" height="10.3" fill="#50513b"/>
<rect x="1136" y="236.7" width="7.3" height="17.1" fill="#ffffff"/>
<rect x="1136" y="240.1" width="7.3" height="10.3" fill="#50513b"/>
<rect x="1147" y="232.4" width="11" height="27.6" fill="#ffffff"/>
<rect x="1147" y="237.1" width="11" height="18.2" fill="#50513b"/>
<rect x="1162" y="232" width="11" height="27.2" fill="#ffffff"/>
<rect x="1162" y="236.6" width="11" height="18" fill="#a59a6e"/>
<rect x="1178" y="236.7" width="7.4" height="17.1" fill="#ffffff"/>
<rect x="1178" y="240.1" width="7.4" height="10.3" fill="#000000"/>
<rect x="1189" y="236.7" width="7.4" height="17.1" fill="#ffffff"/>
<rect x="1189" y="240.1" width="7.4" height="10.3" fill="#000000"/>
<rect x="1201" y="232.4" width="11" height="27.6" fill="#ffffff"/>
<rect x="1201" y="237.1" width="11" height="18.2" fill="#50513b"/>
<rect x="1215.9" y="232.8" width="17.1" height="8.9" fill="#ffffff"/>
<rect x="1219" y="232.8" width="10.9" height="8.9" fill="#a5a5a5"/>
<rect x="1215.9" y="243.8" width="17.1" height="8.4" fill="#ffffff"/>
<rect x="1219" y="243.8" width="10.9" height="8.4" fill="#50513b"/>
<rect x="1238" y="234.3" width="27" height="10.5" fill="#ffffff"/>
<rect x="1242.9" y="234.3" width="17.3" height="10.5" fill="#b0b0b0"/>
<circle cx="1224.4" cy="267.2" r="9.2" fill="#fbc73b"/>
<rect x="1248.8" y="254.7" width="16.6" height="16.6" fill="#a3a3a8"/>
<text x="0" y="0" font-size="5" fill="#ddd" transform="translate(1254.5 258) rotate(90)">F 00</text>
<circle cx="1128.7" cy="280.3" r="3.7" fill="#fbc73b"/>
<circle cx="1141.8" cy="280.3" r="3.7" fill="#fbc73b"/>
<circle cx="1154.6" cy="280.3" r="3.7" fill="#fbc73b"/>
<circle cx="1179.9" cy="280.3" r="3.7" fill="#fbc73b"/>
<circle cx="1192.7" cy="280.3" r="3.7" fill="#fbc73b"/>
<circle cx="1206.4" cy="280.3" r="3.7" fill="#fbc73b"/>
<rect x="1023.7" y="131.8" width="7.8" height="16.2" fill="#ffffff"/>
<rect x="1023.7" y="135" width="7.8" height="9.7" fill="#50513b"/>
<rect x="1034.7" y="131.8" width="7.8" height="16.2" fill="#ffffff"/>
<rect x="1034.7" y="135" width="7.8" height="9.7" fill="#50513b"/>
<rect x="1045.6" y="131.8" width="7.8" height="16.2" fill="#ffffff"/>
<rect x="1045.6" y="135" width="7.8" height="9.7" fill="#50513b"/>
<rect x="1056.6" y="131.8" width="7.8" height="16.2" fill="#ffffff"/>
<rect x="1056.6" y="135" width="7.8" height="9.7" fill="#50513b"/>
<rect x="1067.5" y="131.8" width="7.8" height="16.2" fill="#ffffff"/>
<rect x="1067.5" y="135" width="7.8" height="9.7" fill="#000000"/>
<rect x="1078.5" y="131.8" width="7.8" height="16.2" fill="#ffffff"/>
<rect x="1078.5" y="135" width="7.8" height="9.7" fill="#50513b"/>
<rect x="1089.5" y="131.8" width="7.8" height="16.2" fill="#ffffff"/>
<rect x="1089.5" y="135" width="7.8" height="9.7" fill="#50513b"/>
<rect x="1100.4" y="131.8" width="7.8" height="16.2" fill="#ffffff"/>
<rect x="1100.4" y="135" width="7.8" height="9.7" fill="#000000"/>
<rect x="1111.4" y="131.8" width="7.8" height="16.2" fill="#ffffff"/>
<rect x="1111.4" y="135" width="7.8" height="9.7" fill="#50513b"/>
<rect x="1122.3" y="131.8" width="7.8" height="16.2" fill="#ffffff"/>
<rect x="1122.3" y="135" width="7.8" height="9.7" fill="#50513b"/>
<rect x="1133.3" y="131.8" width="7.8" height="16.2" fill="#ffffff"/>
<rect x="1133.3" y="135" width="7.8" height="9.7" fill="#50513b"/>
<rect x="1144.3" y="131.8" width="7.8" height="16.2" fill="#ffffff"/>
<rect x="1144.3" y="135" width="7.8" height="9.7" fill="#50513b"/>
<rect x="1155.2" y="131.8" width="7.8" height="16.2" fill="#ffffff"/>
<rect x="1155.2" y="135" width="7.8" height="9.7" fill="#50513b"/>
<rect x="1166.2" y="131.8" width="7.8" height="16.2" fill="#ffffff"/>
<rect x="1166.2" y="135" width="7.8" height="9.7" fill="#000000"/>
<rect x="1177.1" y="131.8" width="7.8" height="16.2" fill="#ffffff"/>
<rect x="1177.1" y="135" width="7.8" height="9.7" fill="#000000"/>
<rect x="1188.1" y="131.8" width="7.8" height="16.2" fill="#ffffff"/>
<rect x="1188.1" y="135" width="7.8" height="9.7" fill="#50513b"/>
<rect x="1199.1" y="131.8" width="7.8" height="16.2" fill="#ffffff"/>
<rect x="1199.1" y="135" width="7.8" height="9.7" fill="#000000"/>
<rect x="1210" y="131.8" width="7.8" height="16.2" fill="#ffffff"/>
<rect x="1210" y="135" width="7.8" height="9.7" fill="#50513b"/>
<rect x="1221" y="131.8" width="7.8" height="16.2" fill="#ffffff"/>
<rect x="1221" y="135" width="7.8" height="9.7" fill="#50513b"/>
<rect x="1231.9" y="131.8" width="7.8" height="16.2" fill="#ffffff"/>
<rect x="1231.9" y="135" width="7.8" height="9.7" fill="#000000"/>
<rect x="1242.9" y="131.8" width="7.8" height="16.2" fill="#ffffff"/>
<rect x="1242.9" y="135" width="7.8" height="9.7" fill="#50513b"/>
<rect x="1253.9" y="131.8" width="7.8" height="16.2" fill="#ffffff"/>
<rect x="1253.9" y="135" width="7.8" height="9.7" fill="#50513b"/>
<rect x="1264.8" y="131.8" width="7.8" height="16.2" fill="#ffffff"/>
<rect x="1264.8" y="135" width="7.8" height="9.7" fill="#50513b"/>
<rect x="1024.9" y="133" width="5.6" height="14.5" fill="#2c3544"/>
<path d="M1023.8 132.2 h7.6 v16 h-7.6 z" fill="none" stroke="#f012f0" stroke-width="1.7"/>
<rect x="1045.9" y="133" width="5.6" height="14.5" fill="#2c3544"/>
<path d="M1044.8 132.2 h7.6 v16 h-7.6 z" fill="none" stroke="#f012f0" stroke-width="1.7"/>
<rect x="1089.8" y="133" width="5.6" height="14.5" fill="#2c3544"/>
<path d="M1088.7 132.2 h7.6 v16 h-7.6 z" fill="none" stroke="#f012f0" stroke-width="1.7"/>
<rect x="1034.2" y="134" width="6.3" height="12" fill="#c89a30"/>
<rect x="1034.2" y="135.4" width="6.3" height="9.1" fill="#000000"/>
<path d="M1033.4 132.2 h8 v16 h-8 z" fill="none" stroke="#f7f01a" stroke-width="1.7"/>
<circle cx="1293" cy="144.6" r="9.2" fill="#fbc73b"/>
<text x="0" y="0" font-size="4.5" fill="#7a6a10" transform="translate(1291.5 138.5) rotate(90)">TP75</text>
<circle cx="1339.8" cy="213.6" r="23.6" fill="#009493" stroke="#1a63c8" stroke-width="0.8"/>
<circle cx="1296.3" cy="251" r="18.9" fill="#fbc73b"/>
<rect x="1310" y="237.2" width="17" height="27.6" fill="#a9a9b2"/>
<rect x="1310" y="237.2" width="5.2" height="27.6" fill="#f3e2a6"/>
<text x="0" y="0" font-size="14.5" fill="#3a46e8" transform="translate(1313 239.2) rotate(90)">OL</text>
<text x="0" y="0" font-size="5.2" fill="#3f9a20" transform="translate(1294 236.5) rotate(90)">NFC_SWP_S</text>
<rect x="971.6" y="151.3" width="307.7" height="77.3" fill="#1f1820"/>
<rect x="1027.3" y="152" width="5" height="8" fill="#ececf0" rx="1"/>
<rect x="1027.3" y="218" width="5" height="10.2" fill="#ececf0" rx="1"/>
<rect x="1038.4" y="152" width="5" height="8" fill="#ececf0" rx="1"/>
<rect x="1038.4" y="218" width="5" height="10.2" fill="#ececf0" rx="1"/>
<rect x="1049.5" y="152" width="5" height="8" fill="#ececf0" rx="1"/>
<rect x="1049.5" y="218" width="5" height="10.2" fill="#ececf0" rx="1"/>
<rect x="1060.5" y="152" width="5" height="8" fill="#ececf0" rx="1"/>
<rect x="1060.5" y="218" width="5" height="10.2" fill="#ececf0" rx="1"/>
<rect x="1071.6" y="152" width="5" height="8" fill="#ececf0" rx="1"/>
<rect x="1071.6" y="218" width="5" height="10.2" fill="#ececf0" rx="1"/>
<rect x="1082.7" y="152" width="5" height="8" fill="#ececf0" rx="1"/>
<rect x="1082.7" y="218" width="5" height="10.2" fill="#ececf0" rx="1"/>
<rect x="1093.8" y="152" width="5" height="8" fill="#ececf0" rx="1"/>
<rect x="1093.8" y="218" width="5" height="10.2" fill="#ececf0" rx="1"/>
<rect x="1104.9" y="152" width="5" height="8" fill="#ececf0" rx="1"/>
<rect x="1104.9" y="218" width="5" height="10.2" fill="#ececf0" rx="1"/>
<rect x="1115.9" y="152" width="5" height="8" fill="#ececf0" rx="1"/>
<rect x="1115.9" y="218" width="5" height="10.2" fill="#ececf0" rx="1"/>
<rect x="1127" y="152" width="5" height="8" fill="#ececf0" rx="1"/>
<rect x="1127" y="218" width="5" height="10.2" fill="#ececf0" rx="1"/>
<rect x="1138.1" y="152" width="5" height="8" fill="#ececf0" rx="1"/>
<rect x="1138.1" y="218" width="5" height="10.2" fill="#ececf0" rx="1"/>
<rect x="1149.2" y="152" width="5" height="8" fill="#ececf0" rx="1"/>
<rect x="1149.2" y="218" width="5" height="10.2" fill="#ececf0" rx="1"/>
<rect x="1160.3" y="152" width="5" height="8" fill="#ececf0" rx="1"/>
<rect x="1160.3" y="218" width="5" height="10.2" fill="#ececf0" rx="1"/>
<rect x="1171.3" y="152" width="5" height="8" fill="#ececf0" rx="1"/>
<rect x="1171.3" y="218" width="5" height="10.2" fill="#ececf0" rx="1"/>
<rect x="1182.4" y="152" width="5" height="8" fill="#ececf0" rx="1"/>
<rect x="1182.4" y="218" width="5" height="10.2" fill="#ececf0" rx="1"/>
<rect x="1193.5" y="152" width="5" height="8" fill="#ececf0" rx="1"/>
<rect x="1193.5" y="218" width="5" height="10.2" fill="#ececf0" rx="1"/>
<rect x="1204.6" y="152" width="5" height="8" fill="#ececf0" rx="1"/>
<rect x="1204.6" y="218" width="5" height="10.2" fill="#ececf0" rx="1"/>
<rect x="1215.7" y="152" width="5" height="8" fill="#ececf0" rx="1"/>
<rect x="1215.7" y="218" width="5" height="10.2" fill="#ececf0" rx="1"/>
<rect x="1226.7" y="152" width="5" height="8" fill="#ececf0" rx="1"/>
<rect x="1226.7" y="218" width="5" height="10.2" fill="#ececf0" rx="1"/>
<rect x="979" y="157.5" width="293" height="64" fill="#98a4d0" rx="7"/>
<rect x="981" y="162.5" width="289" height="57" fill="#7c8abf" rx="6"/>
<rect x="1022" y="163.5" width="212" height="52.5" fill="#5f6ea6"/>
<rect x="1022" y="181.5" width="240" height="16.5" fill="#7080b8"/>
<rect x="1034" y="184" width="156" height="11" fill="#6878b0"/>
<rect x="975" y="165" width="47" height="49.5" fill="#cdd2e6" rx="4"/>
<rect x="994" y="171" width="27" height="37" fill="#5b6aa4" rx="2"/>
<rect x="1234" y="165" width="43.5" height="49.5" fill="#cdd2e6" rx="4"/>
<rect x="1236" y="171" width="26" height="37" fill="#5b6aa4" rx="2"/>
<rect x="975" y="172" width="9" height="36" fill="#e3e5ee" rx="2"/>
<rect x="1268" y="172" width="9.5" height="36" fill="#e3e5ee" rx="2"/>
<rect x="1000" y="152.5" width="18" height="8" fill="#dcdce4" rx="1"/>
<rect x="1000" y="219.5" width="18" height="8.3" fill="#dcdce4" rx="1"/>
<rect x="1238" y="152.5" width="20" height="8" fill="#dcdce4" rx="1"/>
<rect x="1238" y="219.5" width="20" height="8.3" fill="#dcdce4" rx="1"/>
<rect x="1025.9" y="163.5" width="7.8" height="18.5" fill="#28223a" rx="1.5"/>
<rect x="1027.7" y="164.5" width="4.2" height="16.5" fill="#d8b98e" rx="1.5"/>
<rect x="1027.7" y="169.5" width="4.2" height="1.1" fill="#6a5238"/>
<rect x="1027.7" y="174.9" width="4.2" height="1.1" fill="#6a5238"/>
<rect x="1025.9" y="197.5" width="7.8" height="18.5" fill="#28223a" rx="1.5"/>
<rect x="1027.7" y="198.5" width="4.2" height="16.5" fill="#d8b98e" rx="1.5"/>
<rect x="1027.7" y="203.5" width="4.2" height="1.1" fill="#6a5238"/>
<rect x="1027.7" y="208.9" width="4.2" height="1.1" fill="#6a5238"/>
<rect x="1037" y="163.5" width="7.8" height="18.5" fill="#28223a" rx="1.5"/>
<rect x="1038.8" y="164.5" width="4.2" height="16.5" fill="#d8b98e" rx="1.5"/>
<rect x="1038.8" y="169.5" width="4.2" height="1.1" fill="#6a5238"/>
<rect x="1038.8" y="174.9" width="4.2" height="1.1" fill="#6a5238"/>
<rect x="1037" y="197.5" width="7.8" height="18.5" fill="#28223a" rx="1.5"/>
<rect x="1038.8" y="198.5" width="4.2" height="16.5" fill="#d8b98e" rx="1.5"/>
<rect x="1038.8" y="203.5" width="4.2" height="1.1" fill="#6a5238"/>
<rect x="1038.8" y="208.9" width="4.2" height="1.1" fill="#6a5238"/>
<rect x="1048.1" y="163.5" width="7.8" height="18.5" fill="#28223a" rx="1.5"/>
<rect x="1049.9" y="164.5" width="4.2" height="16.5" fill="#d8b98e" rx="1.5"/>
<rect x="1049.9" y="169.5" width="4.2" height="1.1" fill="#6a5238"/>
<rect x="1049.9" y="174.9" width="4.2" height="1.1" fill="#6a5238"/>
<rect x="1048.1" y="197.5" width="7.8" height="18.5" fill="#28223a" rx="1.5"/>
<rect x="1049.9" y="198.5" width="4.2" height="16.5" fill="#d8b98e" rx="1.5"/>
<rect x="1049.9" y="203.5" width="4.2" height="1.1" fill="#6a5238"/>
<rect x="1049.9" y="208.9" width="4.2" height="1.1" fill="#6a5238"/>
<rect x="1059.1" y="163.5" width="7.8" height="18.5" fill="#28223a" rx="1.5"/>
<rect x="1060.9" y="164.5" width="4.2" height="16.5" fill="#d8b98e" rx="1.5"/>
<rect x="1060.9" y="169.5" width="4.2" height="1.1" fill="#6a5238"/>
<rect x="1060.9" y="174.9" width="4.2" height="1.1" fill="#6a5238"/>
<rect x="1059.1" y="197.5" width="7.8" height="18.5" fill="#28223a" rx="1.5"/>
<rect x="1060.9" y="198.5" width="4.2" height="16.5" fill="#d8b98e" rx="1.5"/>
<rect x="1060.9" y="203.5" width="4.2" height="1.1" fill="#6a5238"/>
<rect x="1060.9" y="208.9" width="4.2" height="1.1" fill="#6a5238"/>
<rect x="1070.2" y="163.5" width="7.8" height="18.5" fill="#28223a" rx="1.5"/>
<rect x="1072" y="164.5" width="4.2" height="16.5" fill="#d8b98e" rx="1.5"/>
<rect x="1072" y="169.5" width="4.2" height="1.1" fill="#6a5238"/>
<rect x="1072" y="174.9" width="4.2" height="1.1" fill="#6a5238"/>
<rect x="1070.2" y="197.5" width="7.8" height="18.5" fill="#28223a" rx="1.5"/>
<rect x="1072" y="198.5" width="4.2" height="16.5" fill="#d8b98e" rx="1.5"/>
<rect x="1072" y="203.5" width="4.2" height="1.1" fill="#6a5238"/>
<rect x="1072" y="208.9" width="4.2" height="1.1" fill="#6a5238"/>
<rect x="1081.3" y="163.5" width="7.8" height="18.5" fill="#28223a" rx="1.5"/>
<rect x="1083.1" y="164.5" width="4.2" height="16.5" fill="#d8b98e" rx="1.5"/>
<rect x="1083.1" y="169.5" width="4.2" height="1.1" fill="#6a5238"/>
<rect x="1083.1" y="174.9" width="4.2" height="1.1" fill="#6a5238"/>
<rect x="1081.3" y="197.5" width="7.8" height="18.5" fill="#28223a" rx="1.5"/>
<rect x="1083.1" y="198.5" width="4.2" height="16.5" fill="#d8b98e" rx="1.5"/>
<rect x="1083.1" y="203.5" width="4.2" height="1.1" fill="#6a5238"/>
<rect x="1083.1" y="208.9" width="4.2" height="1.1" fill="#6a5238"/>
<rect x="1092.4" y="163.5" width="7.8" height="18.5" fill="#28223a" rx="1.5"/>
<rect x="1094.2" y="164.5" width="4.2" height="16.5" fill="#d8b98e" rx="1.5"/>
<rect x="1094.2" y="169.5" width="4.2" height="1.1" fill="#6a5238"/>
<rect x="1094.2" y="174.9" width="4.2" height="1.1" fill="#6a5238"/>
<rect x="1092.4" y="197.5" width="7.8" height="18.5" fill="#28223a" rx="1.5"/>
<rect x="1094.2" y="198.5" width="4.2" height="16.5" fill="#d8b98e" rx="1.5"/>
<rect x="1094.2" y="203.5" width="4.2" height="1.1" fill="#6a5238"/>
<rect x="1094.2" y="208.9" width="4.2" height="1.1" fill="#6a5238"/>
<rect x="1103.5" y="163.5" width="7.8" height="18.5" fill="#28223a" rx="1.5"/>
<rect x="1105.3" y="164.5" width="4.2" height="16.5" fill="#d8b98e" rx="1.5"/>
<rect x="1105.3" y="169.5" width="4.2" height="1.1" fill="#6a5238"/>
<rect x="1105.3" y="174.9" width="4.2" height="1.1" fill="#6a5238"/>
<rect x="1103.5" y="197.5" width="7.8" height="18.5" fill="#28223a" rx="1.5"/>
<rect x="1105.3" y="198.5" width="4.2" height="16.5" fill="#d8b98e" rx="1.5"/>
<rect x="1105.3" y="203.5" width="4.2" height="1.1" fill="#6a5238"/>
<rect x="1105.3" y="208.9" width="4.2" height="1.1" fill="#6a5238"/>
<rect x="1114.5" y="163.5" width="7.8" height="18.5" fill="#28223a" rx="1.5"/>
<rect x="1116.3" y="164.5" width="4.2" height="16.5" fill="#d8b98e" rx="1.5"/>
<rect x="1116.3" y="169.5" width="4.2" height="1.1" fill="#6a5238"/>
<rect x="1116.3" y="174.9" width="4.2" height="1.1" fill="#6a5238"/>
<rect x="1114.5" y="197.5" width="7.8" height="18.5" fill="#28223a" rx="1.5"/>
<rect x="1116.3" y="198.5" width="4.2" height="16.5" fill="#d8b98e" rx="1.5"/>
<rect x="1116.3" y="203.5" width="4.2" height="1.1" fill="#6a5238"/>
<rect x="1116.3" y="208.9" width="4.2" height="1.1" fill="#6a5238"/>
<rect x="1125.6" y="163.5" width="7.8" height="18.5" fill="#28223a" rx="1.5"/>
<rect x="1127.4" y="164.5" width="4.2" height="16.5" fill="#d8b98e" rx="1.5"/>
<rect x="1127.4" y="169.5" width="4.2" height="1.1" fill="#6a5238"/>
<rect x="1127.4" y="174.9" width="4.2" height="1.1" fill="#6a5238"/>
<rect x="1125.6" y="197.5" width="7.8" height="18.5" fill="#28223a" rx="1.5"/>
<rect x="1127.4" y="198.5" width="4.2" height="16.5" fill="#d8b98e" rx="1.5"/>
<rect x="1127.4" y="203.5" width="4.2" height="1.1" fill="#6a5238"/>
<rect x="1127.4" y="208.9" width="4.2" height="1.1" fill="#6a5238"/>
<rect x="1136.7" y="163.5" width="7.8" height="18.5" fill="#28223a" rx="1.5"/>
<rect x="1138.5" y="164.5" width="4.2" height="16.5" fill="#d8b98e" rx="1.5"/>
<rect x="1138.5" y="169.5" width="4.2" height="1.1" fill="#6a5238"/>
<rect x="1138.5" y="174.9" width="4.2" height="1.1" fill="#6a5238"/>
<rect x="1136.7" y="197.5" width="7.8" height="18.5" fill="#28223a" rx="1.5"/>
<rect x="1138.5" y="198.5" width="4.2" height="16.5" fill="#d8b98e" rx="1.5"/>
<rect x="1138.5" y="203.5" width="4.2" height="1.1" fill="#6a5238"/>
<rect x="1138.5" y="208.9" width="4.2" height="1.1" fill="#6a5238"/>
<rect x="1158.9" y="163.5" width="7.8" height="18.5" fill="#28223a" rx="1.5"/>
<rect x="1160.7" y="164.5" width="4.2" height="16.5" fill="#d8b98e" rx="1.5"/>
<rect x="1160.7" y="169.5" width="4.2" height="1.1" fill="#6a5238"/>
<rect x="1160.7" y="174.9" width="4.2" height="1.1" fill="#6a5238"/>
<rect x="1158.9" y="197.5" width="7.8" height="18.5" fill="#28223a" rx="1.5"/>
<rect x="1160.7" y="198.5" width="4.2" height="16.5" fill="#d8b98e" rx="1.5"/>
<rect x="1160.7" y="203.5" width="4.2" height="1.1" fill="#6a5238"/>
<rect x="1160.7" y="208.9" width="4.2" height="1.1" fill="#6a5238"/>
<rect x="1169.9" y="163.5" width="7.8" height="18.5" fill="#28223a" rx="1.5"/>
<rect x="1171.7" y="164.5" width="4.2" height="16.5" fill="#d8b98e" rx="1.5"/>
<rect x="1171.7" y="169.5" width="4.2" height="1.1" fill="#6a5238"/>
<rect x="1171.7" y="174.9" width="4.2" height="1.1" fill="#6a5238"/>
<rect x="1169.9" y="197.5" width="7.8" height="18.5" fill="#28223a" rx="1.5"/>
<rect x="1171.7" y="198.5" width="4.2" height="16.5" fill="#d8b98e" rx="1.5"/>
<rect x="1171.7" y="203.5" width="4.2" height="1.1" fill="#6a5238"/>
<rect x="1171.7" y="208.9" width="4.2" height="1.1" fill="#6a5238"/>
<rect x="1181" y="163.5" width="7.8" height="18.5" fill="#28223a" rx="1.5"/>
<rect x="1182.8" y="164.5" width="4.2" height="16.5" fill="#d8b98e" rx="1.5"/>
<rect x="1182.8" y="169.5" width="4.2" height="1.1" fill="#6a5238"/>
<rect x="1182.8" y="174.9" width="4.2" height="1.1" fill="#6a5238"/>
<rect x="1181" y="197.5" width="7.8" height="18.5" fill="#28223a" rx="1.5"/>
<rect x="1182.8" y="198.5" width="4.2" height="16.5" fill="#d8b98e" rx="1.5"/>
<rect x="1182.8" y="203.5" width="4.2" height="1.1" fill="#6a5238"/>
<rect x="1182.8" y="208.9" width="4.2" height="1.1" fill="#6a5238"/>
<rect x="1192.1" y="163.5" width="7.8" height="18.5" fill="#28223a" rx="1.5"/>
<rect x="1193.9" y="164.5" width="4.2" height="16.5" fill="#d8b98e" rx="1.5"/>
<rect x="1193.9" y="169.5" width="4.2" height="1.1" fill="#6a5238"/>
<rect x="1193.9" y="174.9" width="4.2" height="1.1" fill="#6a5238"/>
<rect x="1192.1" y="197.5" width="7.8" height="18.5" fill="#28223a" rx="1.5"/>
<rect x="1193.9" y="198.5" width="4.2" height="16.5" fill="#d8b98e" rx="1.5"/>
<rect x="1193.9" y="203.5" width="4.2" height="1.1" fill="#6a5238"/>
<rect x="1193.9" y="208.9" width="4.2" height="1.1" fill="#6a5238"/>
<rect x="1203.2" y="163.5" width="7.8" height="18.5" fill="#28223a" rx="1.5"/>
<rect x="1205" y="164.5" width="4.2" height="16.5" fill="#d8b98e" rx="1.5"/>
<rect x="1205" y="169.5" width="4.2" height="1.1" fill="#6a5238"/>
<rect x="1205" y="174.9" width="4.2" height="1.1" fill="#6a5238"/>
<rect x="1203.2" y="197.5" width="7.8" height="18.5" fill="#28223a" rx="1.5"/>
<rect x="1205" y="198.5" width="4.2" height="16.5" fill="#d8b98e" rx="1.5"/>
<rect x="1205" y="203.5" width="4.2" height="1.1" fill="#6a5238"/>
<rect x="1205" y="208.9" width="4.2" height="1.1" fill="#6a5238"/>
<rect x="1214.3" y="163.5" width="7.8" height="18.5" fill="#28223a" rx="1.5"/>
<rect x="1216.1" y="164.5" width="4.2" height="16.5" fill="#d8b98e" rx="1.5"/>
<rect x="1216.1" y="169.5" width="4.2" height="1.1" fill="#6a5238"/>
<rect x="1216.1" y="174.9" width="4.2" height="1.1" fill="#6a5238"/>
<rect x="1214.3" y="197.5" width="7.8" height="18.5" fill="#28223a" rx="1.5"/>
<rect x="1216.1" y="198.5" width="4.2" height="16.5" fill="#d8b98e" rx="1.5"/>
<rect x="1216.1" y="203.5" width="4.2" height="1.1" fill="#6a5238"/>
<rect x="1216.1" y="208.9" width="4.2" height="1.1" fill="#6a5238"/>
<rect x="1225.3" y="163.5" width="7.8" height="18.5" fill="#28223a" rx="1.5"/>
<rect x="1227.1" y="164.5" width="4.2" height="16.5" fill="#d8b98e" rx="1.5"/>
<rect x="1227.1" y="169.5" width="4.2" height="1.1" fill="#6a5238"/>
<rect x="1227.1" y="174.9" width="4.2" height="1.1" fill="#6a5238"/>
<rect x="1225.3" y="197.5" width="7.8" height="18.5" fill="#28223a" rx="1.5"/>
<rect x="1227.1" y="198.5" width="4.2" height="16.5" fill="#d8b98e" rx="1.5"/>
<rect x="1227.1" y="203.5" width="4.2" height="1.1" fill="#6a5238"/>
<rect x="1227.1" y="208.9" width="4.2" height="1.1" fill="#6a5238"/>
<path d="M1269.5 150.3 L1280.5 150.3 L1280.5 161.3" fill="none" stroke="#e0101a" stroke-width="2.2"/>
<rect x="816" y="318" width="27.7" height="12" fill="#ffffff"/>
<rect x="821.5" y="318" width="16.6" height="12" fill="#4c4c4c"/>
<rect x="816" y="335" width="27.7" height="11" fill="#ffffff"/>
<rect x="821.5" y="335" width="16.6" height="11" fill="#d6d6ca"/>
<rect x="816" y="352" width="27.7" height="10.7" fill="#ffffff"/>
<rect x="821.5" y="352" width="16.6" height="10.7" fill="#d6d6ca"/>
<rect x="816" y="367" width="27.7" height="11" fill="#ffffff"/>
<rect x="821.5" y="367" width="16.6" height="11" fill="#bdbdbd"/>
<rect x="816" y="383" width="27.7" height="11" fill="#ffffff"/>
<rect x="821.5" y="383" width="16.6" height="11" fill="#a59a6e"/>
<rect x="816" y="400" width="27.7" height="10.6" fill="#ffffff"/>
<rect x="821.5" y="400" width="16.6" height="10.6" fill="#a59a6e"/>
<rect x="816" y="416" width="27.7" height="11" fill="#ffffff"/>
<rect x="821.5" y="416" width="16.6" height="11" fill="#d6d6ca"/>
<rect x="816" y="433" width="27.7" height="10" fill="#ffffff"/>
<rect x="821.5" y="433" width="16.6" height="10" fill="#a59a6e"/>
<rect x="816" y="449" width="27.7" height="10" fill="#ffffff"/>
<rect x="821.5" y="449" width="16.6" height="10" fill="#d6d6ca"/>
<rect x="846" y="318" width="27" height="11.2" fill="#ffffff"/>
<rect x="851.1" y="318" width="16.7" height="11.2" fill="#a59a6e"/>
<rect x="876.8" y="318" width="27" height="11.2" fill="#ffffff"/>
<rect x="881.9" y="318" width="16.7" height="11.2" fill="#a59a6e"/>
<rect x="907" y="318" width="27" height="11.2" fill="#ffffff"/>
<rect x="912.1" y="318" width="16.7" height="11.2" fill="#d6d6ca"/>
<rect x="853.8" y="338.6" width="97.2" height="85.6" fill="#050002"/>
<circle cx="864.4" cy="414.5" r="3" fill="#6f6a66"/>
<path d="M865.5 425.8 L851 425.8 L851 411.8" fill="none" stroke="#e0101a" stroke-width="2.2"/>
<text x="0" y="0" font-size="4.5" fill="#3d3d3d" transform="translate(893 368) rotate(90)">338S00306 A1</text>
<text x="0" y="0" font-size="4.5" fill="#3d3d3d" transform="translate(903 382) rotate(90)">1728N1HC</text>
<rect x="847" y="433" width="11" height="26" fill="#ffffff"/>
<rect x="847" y="438.2" width="11" height="15.6" fill="#d6d6ca"/>
<rect x="863.7" y="433" width="10.3" height="26" fill="#ffffff"/>
<rect x="863.7" y="438.2" width="10.3" height="15.6" fill="#6b6348"/>
<rect x="878.3" y="433" width="17.1" height="8.2" fill="#ffffff"/>
<rect x="881.7" y="433" width="10.3" height="8.2" fill="#6b6348"/>
<rect x="900.4" y="433" width="15.6" height="8.2" fill="#ffffff"/>
<rect x="903.5" y="433" width="9.4" height="8.2" fill="#6b6348"/>
<rect x="922" y="433" width="17.8" height="8.2" fill="#ffffff"/>
<rect x="925.6" y="433" width="10.7" height="8.2" fill="#6b6348"/>
<rect x="952" y="436.5" width="16.6" height="8.5" fill="#ffffff"/>
<rect x="954.8" y="436.5" width="11" height="8.5" fill="#45453d"/>
<rect x="982" y="436.5" width="16.7" height="8.5" fill="#ffffff"/>
<rect x="984.8" y="436.5" width="11" height="8.5" fill="#45453d"/>
<circle cx="920" cy="446.6" r="3.4" fill="#fbc73b"/>
<circle cx="929.3" cy="446.6" r="3.4" fill="#fbc73b"/>
<circle cx="939.4" cy="446.6" r="3.4" fill="#fbc73b"/>
<path d="M899.1 448.3 L884.6 448.3 L884.6 462.8" fill="none" stroke="#e0101a" stroke-width="2.2"/>
<rect x="817" y="464" width="17" height="8" fill="#ffffff"/>
<rect x="820.1" y="464" width="10.9" height="8" fill="#000000"/>
<rect x="844" y="464" width="16.6" height="8" fill="#ffffff"/>
<rect x="847" y="464" width="10.6" height="8" fill="#000000"/>
<rect x="865" y="464" width="16.8" height="8" fill="#ffffff"/>
<rect x="868" y="464" width="10.8" height="8" fill="#000000"/>
<rect x="999.2" y="320.5" width="4.8" height="18.5" fill="#b3b5c6"/>
<text x="0" y="0" font-size="4.1" fill="#3b46e6" transform="translate(1000.1 321.7) rotate(90)">P0V8S</text>
<rect x="999.2" y="356" width="4.8" height="25" fill="#b3b5c6"/>
<text x="0" y="0" font-size="4.1" fill="#3b46e6" transform="translate(1000.1 357.2) rotate(90)">P0V8S2</text>
<rect x="961.8" y="318" width="38.2" height="65.6" fill="#b9b7ba"/>
<circle cx="969.5" cy="332.3" r="4.5" fill="#6f625e"/>
<rect x="1006.8" y="316.6" width="18.4" height="8.6" fill="#ffffff"/>
<rect x="1009.6" y="316.6" width="12.9" height="8.6" fill="#000000"/>
<rect x="1005.7" y="329.6" width="21.1" height="41.2" fill="#ffffff"/>
<rect x="1005.7" y="337.8" width="21.1" height="24.7" fill="#9e946c"/>
<rect x="1028" y="372" width="5" height="4" fill="#b3b5c6"/>
<text x="0" y="0" font-size="4.2" fill="#3b46e6" transform="translate(1029.0 373.2) rotate(90)">P0</text>
<rect x="1056" y="321.7" width="10" height="20.3" fill="#b3b5c6"/>
<text x="0" y="0" font-size="6.5" fill="#3b46e6" transform="translate(1058.7 322.9) rotate(90)">P0V8S</text>
<rect x="1056" y="354" width="10" height="22" fill="#b3b5c6"/>
<text x="0" y="0" font-size="6.5" fill="#3b46e6" transform="translate(1058.7 355.2) rotate(90)">P0V8S2</text>
<rect x="1030.9" y="321.7" width="30.4" height="54.1" fill="#ffffff"/>
<rect x="1030.9" y="333.3" width="30.4" height="30.8" fill="#6e5f40"/>
<rect x="1004.6" y="379.6" width="17.4" height="7.9" fill="#ffffff"/>
<rect x="1007.7" y="379.6" width="11.1" height="7.9" fill="#6b6348"/>
<rect x="1028.6" y="381.8" width="17.6" height="8" fill="#ffffff"/>
<rect x="1031.8" y="381.8" width="11.3" height="8" fill="#6b6348"/>
<rect x="958.9" y="388" width="41.1" height="20.8" fill="#ffffff"/>
<rect x="967.1" y="388" width="24.7" height="20.8" fill="#a59a6e"/>
<rect x="958.9" y="410.6" width="41.1" height="21.4" fill="#ffffff"/>
<rect x="967.1" y="410.6" width="24.7" height="21.4" fill="#a59a6e"/>
<rect x="1005.7" y="394.9" width="64.1" height="50.1" fill="#b9b7ba"/>
<circle cx="1016.7" cy="430.2" r="5" fill="#000000"/>
<rect x="1069" y="318.4" width="35" height="34.6" fill="#050002"/>
<path d="M1092.5 354.4 L1105.5 354.4 L1105.5 341.4" fill="none" stroke="#e0101a" stroke-width="2.2"/>
<text x="0" y="0" font-size="4.5" fill="#444" transform="translate(1081 325) rotate(90)">HDLJ</text>
<text x="0" y="0" font-size="4.5" fill="#444" transform="translate(1091 325) rotate(90)">HXO</text>
<rect x="1069" y="357.7" width="10" height="27" fill="#ffffff"/>
<rect x="1069" y="363.1" width="10" height="16.2" fill="#6b6348"/>
<rect x="1081.6" y="357.7" width="22.4" height="45.1" fill="#ffffff"/>
<rect x="1081.6" y="366.3" width="22.4" height="28" fill="#6e674a"/>
<rect x="1078.9" y="402.8" width="12.6" height="28.2" fill="#ffffff"/>
<rect x="1078.9" y="408.4" width="12.6" height="16.9" fill="#6b6348"/>
<rect x="1093.8" y="405" width="12.2" height="26" fill="#ffffff"/>
<rect x="1093.8" y="410.2" width="12.2" height="15.6" fill="#000000"/>
<rect x="1081.6" y="433.5" width="24.4" height="11.3" fill="#ffffff"/>
<rect x="1085.7" y="433.5" width="16.1" height="11.3" fill="#6b6348"/>
<circle cx="1122.2" cy="312.5" r="3.5" fill="#fbc73b"/>
<circle cx="1135.5" cy="312.5" r="3.5" fill="#fbc73b"/>
<circle cx="1169.4" cy="312.5" r="3.5" fill="#fbc73b"/>
<circle cx="1182.7" cy="312.5" r="3.5" fill="#fbc73b"/>
<circle cx="1192.7" cy="312.5" r="3.5" fill="#fbc73b"/>
<circle cx="1206" cy="312.5" r="3.5" fill="#fbc73b"/>
<circle cx="1216" cy="312.5" r="3.5" fill="#fbc73b"/>
<circle cx="1277.5" cy="312.5" r="3.5" fill="#fbc73b"/>
<rect x="1123.9" y="331.9" width="98.7" height="99.1" fill="#34362f"/>
<path d="M1124.3 332.3 h97.9 v98.3 h-97.9 z" fill="none" stroke="#484b40" stroke-width="0.8"/>
<path d="M1136 330.3 L1122 330.3 L1122 344.3" fill="none" stroke="#e0101a" stroke-width="2.2"/>
<text x="1165" y="362" font-size="13" fill="#474a41">NXP</text>
<text x="0" y="0" font-size="9.5" fill="#444840" transform="translate(1188 372) rotate(90)" letter-spacing="0.6">80V18</text>
<text x="0" y="0" font-size="8" fill="#444840" transform="translate(1167 377) rotate(90)" letter-spacing="0.5">05 02</text>
<text x="0" y="0" font-size="9.5" fill="#444840" transform="translate(1152 353) rotate(90)" letter-spacing="0.6">N0D728</text>
<rect x="1241.8" y="316.7" width="8.6" height="17" fill="#ffffff"/>
<rect x="1241.8" y="320.1" width="8.6" height="10.2" fill="#6b6348"/>
<rect x="1253.4" y="321.8" width="28.1" height="10.2" fill="#ffffff"/>
<rect x="1258.2" y="321.8" width="18.5" height="10.2" fill="#9c9274"/>
<rect x="1243" y="339.6" width="17" height="8.6" fill="#ffffff"/>
<rect x="1245.9" y="339.6" width="11.2" height="8.6" fill="#000000"/>
<rect x="1264" y="337.2" width="26.8" height="11" fill="#ffffff"/>
<rect x="1268.6" y="337.2" width="17.7" height="11" fill="#d6d6ca"/>
<rect x="1244" y="351.7" width="10" height="28" fill="#ffffff"/>
<rect x="1244" y="357.3" width="10" height="16.8" fill="#d6d6ca"/>
<rect x="1243" y="382.8" width="11" height="27.2" fill="#ffffff"/>
<rect x="1243" y="388.2" width="11" height="16.3" fill="#9c9274"/>
<rect x="1260.4" y="351.7" width="17.6" height="40.3" fill="#04304e"/>
<path d="M1259.8 351 h18.8 v41.6 h-18.8 z" fill="none" stroke="#46492f" stroke-width="0.7"/>
<rect x="1257.6" y="398" width="27.4" height="11" fill="#ffffff"/>
<rect x="1262.5" y="398" width="17.5" height="11" fill="#9c9274"/>
<rect x="1241.8" y="414.8" width="41.5" height="16.8" fill="#04304e"/>
<path d="M1241.3 414.3 h42.5 v17.8 h-42.5 z" fill="none" stroke="#46492f" stroke-width="0.7"/>
<rect x="1285.7" y="423" width="27.3" height="10.4" fill="#ffffff"/>
<rect x="1290.3" y="423" width="18" height="10.4" fill="#d6d6ca"/>
<rect x="1316" y="433" width="27" height="10.2" fill="#ffffff"/>
<rect x="1320.6" y="433" width="17.8" height="10.2" fill="#000000"/>
<rect x="1243" y="440" width="18" height="7.6" fill="#ffffff"/>
<rect x="1246.6" y="440" width="10.8" height="7.6" fill="#6b6348"/>
<rect x="1265" y="440" width="17" height="7.6" fill="#ffffff"/>
<rect x="1268.4" y="440" width="10.2" height="7.6" fill="#6b6348"/>
<rect x="1289" y="372" width="34" height="42.8" fill="#87806f"/>
<circle cx="1297.8" cy="384.4" r="2.6" fill="#c9c9c9"/>
<path d="M1301 417.2 L1287 417.2 L1287 403.2" fill="none" stroke="#e0101a" stroke-width="2.2"/>
<rect x="1295" y="318.3" width="7" height="7.7" fill="#fbc73b"/>
<rect x="1307" y="318.5" width="6.4" height="6.5" fill="#fbc73b"/>
<rect x="1317.6" y="318.5" width="5.4" height="5.8" fill="#9b9ba0"/>
<rect x="1294.4" y="332.6" width="5.1" height="5.6" fill="#9b9ba0"/>
<rect x="1303.6" y="331.2" width="6.6" height="7" fill="#fbc73b"/>
<rect x="1313.7" y="329.5" width="8.7" height="8.7" fill="#fbc73b"/>
<path d="M1311.1 316.5 L1325.6 316.5 L1325.6 330.5" fill="none" stroke="#e0101a" stroke-width="2.2"/>
<rect x="1295" y="345.8" width="7" height="7.7" fill="#fbc73b"/>
<rect x="1307" y="346" width="6.4" height="6.5" fill="#fbc73b"/>
<rect x="1317.6" y="346" width="5.4" height="5.8" fill="#9b9ba0"/>
<rect x="1294.4" y="360.1" width="5.1" height="5.6" fill="#9b9ba0"/>
<rect x="1303.6" y="358.7" width="6.6" height="7" fill="#fbc73b"/>
<rect x="1313.7" y="357" width="8.7" height="8.7" fill="#fbc73b"/>
<path d="M1311.1 344 L1325.6 344 L1325.6 358" fill="none" stroke="#e0101a" stroke-width="2.2"/>
<rect x="1327" y="316.7" width="27.3" height="10.3" fill="#ffffff"/>
<rect x="1332.2" y="316.7" width="16.9" height="10.3" fill="#d6d6ca"/>
<rect x="1327" y="330.7" width="27.3" height="10.3" fill="#ffffff"/>
<rect x="1332.2" y="330.7" width="16.9" height="10.3" fill="#d6d6ca"/>
<rect x="1327" y="344.7" width="27.3" height="11" fill="#ffffff"/>
<rect x="1332.2" y="344.7" width="16.9" height="11" fill="#d6d6ca"/>
<rect x="1327" y="403.8" width="27.3" height="11" fill="#ffffff"/>
<rect x="1332.2" y="403.8" width="16.9" height="11" fill="#d6d6ca"/>
<rect x="1327" y="417.6" width="27.3" height="11.2" fill="#ffffff"/>
<rect x="1332.2" y="417.6" width="16.9" height="11.2" fill="#d6d6ca"/>
<rect x="1335" y="361" width="8" height="6.6" fill="#fbc73b"/>
<rect x="1345" y="361" width="8" height="6.6" fill="#fbc73b"/>
<rect x="1335" y="370.9" width="8" height="6.5" fill="#fbc73b"/>
<rect x="1345" y="370.9" width="8" height="6.5" fill="#fbc73b"/>
<rect x="1335" y="382" width="8" height="7" fill="#fbc73b"/>
<rect x="1345" y="382" width="8" height="7" fill="#fbc73b"/>
<rect x="1335" y="393" width="8" height="6.6" fill="#fbc73b"/>
<rect x="1345" y="393" width="8" height="6.6" fill="#fbc73b"/>
<rect x="1336.3" y="451" width="17.5" height="8.6" fill="#ffffff"/>
<rect x="1339.8" y="451" width="10.5" height="8.6" fill="#6b6348"/>
<rect x="1336.3" y="462" width="17.5" height="8.3" fill="#ffffff"/>
<rect x="1339.8" y="462" width="10.5" height="8.3" fill="#6b6348"/>
<rect x="1336.3" y="472.7" width="17.5" height="8.6" fill="#ffffff"/>
<rect x="1339.8" y="472.7" width="10.5" height="8.6" fill="#6b6348"/>
<rect x="1336.3" y="483.6" width="17.5" height="8.2" fill="#ffffff"/>
<rect x="1339.8" y="483.6" width="10.5" height="8.2" fill="#6b6348"/>
<rect x="1337.5" y="495" width="10.9" height="26.6" fill="#ffffff"/>
<rect x="1337.5" y="500.3" width="10.9" height="16" fill="#9a8250"/>
<rect x="1336.4" y="525" width="16.9" height="8.3" fill="#ffffff"/>
<rect x="1339.8" y="525" width="10.1" height="8.3" fill="#000000"/>
<rect x="1337.5" y="534.7" width="10.9" height="27.3" fill="#ffffff"/>
<rect x="1337.5" y="540.2" width="10.9" height="16.4" fill="#9a8250"/>
<rect x="1337.5" y="566" width="10.9" height="26.7" fill="#ffffff"/>
<rect x="1337.5" y="571.3" width="10.9" height="16" fill="#8a733f"/>
<rect x="1336.4" y="595.4" width="16.9" height="8.2" fill="#ffffff"/>
<rect x="1339.8" y="595.4" width="10.1" height="8.2" fill="#000000"/>
<rect x="1336.4" y="606.4" width="16.9" height="8.2" fill="#ffffff"/>
<rect x="1339.8" y="606.4" width="10.1" height="8.2" fill="#000000"/>
<rect x="1336.4" y="617.5" width="16.9" height="8.2" fill="#ffffff"/>
<rect x="1339.8" y="617.5" width="10.1" height="8.2" fill="#000000"/>
<rect x="1336.4" y="628.5" width="16.9" height="8.2" fill="#ffffff"/>
<rect x="1339.8" y="628.5" width="10.1" height="8.2" fill="#000000"/>
<rect x="1336.4" y="639.6" width="16.9" height="8.2" fill="#ffffff"/>
<rect x="1339.8" y="639.6" width="10.1" height="8.2" fill="#000000"/>
<rect x="1336.4" y="650.6" width="16.9" height="8.2" fill="#ffffff"/>
<rect x="1339.8" y="650.6" width="10.1" height="8.2" fill="#000000"/>
<rect x="1336.4" y="661.7" width="16.9" height="8.2" fill="#ffffff"/>
<rect x="1339.8" y="661.7" width="10.1" height="8.2" fill="#000000"/>
<rect x="1336.4" y="672.7" width="16.9" height="8.2" fill="#ffffff"/>
<rect x="1339.8" y="672.7" width="10.1" height="8.2" fill="#000000"/>
<rect x="1336.4" y="683.8" width="16.9" height="8.2" fill="#ffffff"/>
<rect x="1339.8" y="683.8" width="10.1" height="8.2" fill="#000000"/>
<rect x="1336.4" y="694.8" width="16.9" height="8.2" fill="#ffffff"/>
<rect x="1339.8" y="694.8" width="10.1" height="8.2" fill="#000000"/>
<rect x="1336.4" y="705.9" width="16.9" height="8.2" fill="#ffffff"/>
<rect x="1339.8" y="705.9" width="10.1" height="8.2" fill="#000000"/>
<rect x="1336.4" y="716.9" width="16.9" height="8.2" fill="#ffffff"/>
<rect x="1339.8" y="716.9" width="10.1" height="8.2" fill="#000000"/>
<rect x="1336.4" y="728" width="16.9" height="8.2" fill="#ffffff"/>
<rect x="1339.8" y="728" width="10.1" height="8.2" fill="#000000"/>
<rect x="1336.4" y="739" width="16.9" height="8.2" fill="#ffffff"/>
<rect x="1339.8" y="739" width="10.1" height="8.2" fill="#000000"/>
<rect x="1336.4" y="750.1" width="16.9" height="8.2" fill="#ffffff"/>
<rect x="1339.8" y="750.1" width="10.1" height="8.2" fill="#000000"/>
<rect x="1336.4" y="761.1" width="16.9" height="8.2" fill="#ffffff"/>
<rect x="1339.8" y="761.1" width="10.1" height="8.2" fill="#000000"/>
<rect x="1336.4" y="772.2" width="16.9" height="8.2" fill="#ffffff"/>
<rect x="1339.8" y="772.2" width="10.1" height="8.2" fill="#000000"/>
<rect x="1336.4" y="783.2" width="16.9" height="8.2" fill="#ffffff"/>
<rect x="1339.8" y="783.2" width="10.1" height="8.2" fill="#8c8c8c"/>
<rect x="1336.4" y="794.3" width="16.9" height="8.2" fill="#ffffff"/>
<rect x="1339.8" y="794.3" width="10.1" height="8.2" fill="#000000"/>
<rect x="1336.4" y="805.3" width="16.9" height="8.2" fill="#ffffff"/>
<rect x="1339.8" y="805.3" width="10.1" height="8.2" fill="#8c8c8c"/>
<rect x="1336.4" y="816.4" width="16.9" height="8.2" fill="#ffffff"/>
<rect x="1339.8" y="816.4" width="10.1" height="8.2" fill="#000000"/>
<rect x="1338" y="827.4" width="11" height="27.6" fill="#ffffff"/>
<rect x="1338" y="832.9" width="11" height="16.6" fill="#97804a"/>
<rect x="1336.4" y="856.4" width="16.9" height="8.6" fill="#ffffff"/>
<rect x="1339.8" y="856.4" width="10.1" height="8.6" fill="#000000"/>
<rect x="1338" y="877" width="11" height="23" fill="#ffffff"/>
<rect x="1338" y="881.6" width="11" height="13.8" fill="#97804a"/>
<rect x="1338" y="902.7" width="11" height="27" fill="#ffffff"/>
<rect x="1338" y="908.1" width="11" height="16.2" fill="#97804a"/>
<rect x="864.4" y="478" width="10.1" height="22" fill="#b3b5c6"/>
<text x="0" y="0" font-size="6.5" fill="#3b46e6" transform="translate(867.1 479.2) rotate(90)">P0V8S2</text>
<rect x="864.4" y="520" width="10.1" height="21" fill="#b3b5c6"/>
<text x="0" y="0" font-size="6.5" fill="#3b46e6" transform="translate(867.1 521.2) rotate(90)">P0V8S</text>
<rect x="815" y="521" width="5.5" height="20" fill="#b3b5c6"/>
<text x="0" y="0" font-size="4.7" fill="#3b46e6" transform="translate(816.1 522.2) rotate(90)">P0V8S</text>
<rect x="818.7" y="477.5" width="51.3" height="64" fill="#77755b"/>
<circle cx="845.6" cy="527" r="8" fill="#ffffff"/>
<rect x="875.6" y="489.4" width="7.4" height="17.1" fill="#ffffff"/>
<rect x="875.6" y="492.8" width="7.4" height="10.3" fill="#000000"/>
<circle cx="879" cy="515.6" r="3.4" fill="#fbc73b"/>
<rect x="827" y="547" width="40.5" height="20.5" fill="#ffffff"/>
<rect x="835.1" y="547" width="24.3" height="20.5" fill="#8b6f47"/>
<rect x="872" y="547" width="11" height="27.4" fill="#ffffff"/>
<rect x="872" y="552.5" width="11" height="16.4" fill="#8b6f47"/>
<rect x="834.7" y="580.6" width="17.8" height="8.8" fill="#ffffff"/>
<rect x="838.3" y="580.6" width="10.7" height="8.8" fill="#000000"/>
<rect x="872" y="588.9" width="11" height="27.1" fill="#ffffff"/>
<rect x="872" y="594.3" width="11" height="16.3" fill="#8b6f47"/>
<rect x="815" y="594" width="6" height="22" fill="#b3b5c6"/>
<text x="0" y="0" font-size="5.1" fill="#3b46e6" transform="translate(816.2 595.2) rotate(90)">P0V8S2</text>
<rect x="856" y="596" width="6" height="18" fill="#b3b5c6"/>
<text x="0" y="0" font-size="5.1" fill="#3b46e6" transform="translate(857.2 597.2) rotate(90)">P0V8S</text>
<rect x="856" y="636" width="6" height="20" fill="#b3b5c6"/>
<text x="0" y="0" font-size="5.1" fill="#3b46e6" transform="translate(857.2 637.2) rotate(90)">P0V8S</text>
<rect x="819" y="592" width="38" height="67" fill="#a0a79c"/>
<path d="M819.3 633 V658.7 H857" fill="none" stroke="#b89a3a" stroke-width="0.8"/>
<circle cx="836.3" cy="648.2" r="4.6" fill="#665a58"/>
<circle cx="866.7" cy="611.8" r="3.6" fill="#fbc73b"/>
<circle cx="865.3" cy="623" r="3.6" fill="#fbc73b"/>
<circle cx="867" cy="657" r="3.6" fill="#fbc73b"/>
<rect x="875.6" y="620.9" width="7.4" height="17.7" fill="#ffffff"/>
<rect x="875.6" y="624.4" width="7.4" height="10.6" fill="#000000"/>
<rect x="875.6" y="643.3" width="7.4" height="17.2" fill="#ffffff"/>
<rect x="875.6" y="646.7" width="7.4" height="10.3" fill="#000000"/>
<rect x="875.6" y="666" width="7.4" height="16.4" fill="#ffffff"/>
<rect x="875.6" y="669.3" width="7.4" height="9.8" fill="#000000"/>
<rect x="866" y="666" width="10" height="22" fill="#b3b5c6"/>
<text x="0" y="0" font-size="6.5" fill="#3b46e6" transform="translate(868.7 667.2) rotate(90)">P0V8S2</text>
<rect x="821" y="665.5" width="49" height="34.5" fill="#a0a79c"/>
<circle cx="833.3" cy="680" r="4.6" fill="#665a58"/>
<rect x="816" y="808" width="6" height="26" fill="#b3b5c6"/>
<text x="0" y="0" font-size="5.1" fill="#3b46e6" transform="translate(817.2 809.2) rotate(90)">P0V8S2R</text>
<rect x="866" y="810" width="9" height="24" fill="#b3b5c6"/>
<text x="0" y="0" font-size="6.5" fill="#3b46e6" transform="translate(868.2 811.2) rotate(90)">P0V8S2</text>
<rect x="866" y="848" width="9" height="25" fill="#b3b5c6"/>
<text x="0" y="0" font-size="6.5" fill="#3b46e6" transform="translate(868.2 849.2) rotate(90)">P0V8S2</text>
<rect x="819.9" y="809.4" width="49.1" height="63.6" fill="#a0a79c"/>
<circle cx="858.7" cy="861.8" r="4.4" fill="#665a58"/>
<rect x="864" y="884" width="4" height="16" fill="#b3b5c6"/>
<text x="0" y="0" font-size="3.4" fill="#3b46e6" transform="translate(864.8 885.2) rotate(90)">P0V8</text>
<rect x="821" y="922" width="6" height="22" fill="#b3b5c6"/>
<text x="0" y="0" font-size="5.1" fill="#3b46e6" transform="translate(822.2 923.2) rotate(90)">P0V8S2</text>
<rect x="864" y="922" width="4" height="22" fill="#b3b5c6"/>
<text x="0" y="0" font-size="3.4" fill="#3b46e6" transform="translate(864.8 923.2) rotate(90)">P0V8S2</text>
<rect x="825.6" y="880" width="38.7" height="65" fill="#a0a79c"/>
<circle cx="853" cy="931.5" r="4.4" fill="#665a58"/>
<rect x="875.7" y="804.8" width="8" height="9.2" fill="#ffffff"/>
<rect x="875.7" y="806.6" width="8" height="5.5" fill="#000000"/>
<rect x="875.7" y="819.6" width="8" height="12.4" fill="#ffffff"/>
<rect x="875.7" y="822.1" width="8" height="7.4" fill="#8a733f"/>
<rect x="875.7" y="840" width="8" height="15" fill="#ffffff"/>
<rect x="875.7" y="843" width="8" height="9" fill="#000000"/>
<rect x="875.7" y="863" width="8" height="17" fill="#ffffff"/>
<rect x="875.7" y="866.4" width="8" height="10.2" fill="#000000"/>
<rect x="875.7" y="885.7" width="8" height="11.3" fill="#ffffff"/>
<rect x="875.7" y="888" width="8" height="6.8" fill="#8a733f"/>
<rect x="875.7" y="906" width="8" height="18.4" fill="#ffffff"/>
<rect x="875.7" y="909.7" width="8" height="11" fill="#000000"/>
<rect x="867.7" y="929" width="11.9" height="25" fill="#ffffff"/>
<rect x="867.7" y="934" width="11.9" height="15" fill="#8a733f"/>
<rect x="816.5" y="949.5" width="41" height="20.5" fill="#ffffff"/>
<rect x="825.5" y="949.5" width="23" height="20.5" fill="#7a6038"/>
<circle cx="818" cy="978" r="3.3" fill="#fbc73b"/>
<circle cx="829" cy="979" r="3.3" fill="#fbc73b"/>
<circle cx="840" cy="978" r="3.3" fill="#fbc73b"/>
<circle cx="851" cy="977" r="3.3" fill="#fbc73b"/>
<circle cx="859" cy="977.5" r="3.3" fill="#fbc73b"/>
<circle cx="868" cy="978" r="3.3" fill="#fbc73b"/>
<circle cx="872" cy="1001" r="3.3" fill="#fbc73b"/>
<circle cx="870" cy="1014" r="3.3" fill="#fbc73b"/>
<circle cx="850" cy="1004" r="3.3" fill="#fbc73b"/>
<rect x="828" y="988" width="42" height="10" fill="#ffffff"/>
<rect x="836.4" y="988" width="25.2" height="10" fill="#000000"/>
<rect x="838" y="1000" width="24" height="6" fill="#ffffff"/>
<rect x="845.2" y="1000" width="9.6" height="6" fill="#000000"/>
<rect x="821.7" y="1010" width="19.8" height="13" fill="#6c7480"/>
<rect x="850.6" y="1012" width="10.4" height="11" fill="#8a733f"/>
<rect x="843" y="1018" width="1.5" height="5" fill="#e0101a"/>
<rect x="885.4" y="927" width="15.4" height="8.7" fill="#ffffff"/>
<rect x="888.5" y="927" width="9.2" height="8.7" fill="#000000"/>
<rect x="904.7" y="929.7" width="9" height="15.9" fill="#ffffff"/>
<rect x="904.7" y="932.9" width="9" height="9.5" fill="#8a8a8a"/>
<rect x="915.5" y="929.7" width="7.5" height="15.9" fill="#ffffff"/>
<rect x="915.5" y="932.9" width="7.5" height="9.5" fill="#000000"/>
<rect x="938" y="927.6" width="18" height="8.4" fill="#ffffff"/>
<rect x="941.6" y="927.6" width="10.8" height="8.4" fill="#8a8a8a"/>
<rect x="960" y="927" width="7" height="17.6" fill="#ffffff"/>
<rect x="960" y="930.5" width="7" height="10.6" fill="#000000"/>
<rect x="971" y="927" width="7" height="17.6" fill="#ffffff"/>
<rect x="971" y="930.5" width="7" height="10.6" fill="#000000"/>
<rect x="982.3" y="927" width="7.2" height="17.6" fill="#ffffff"/>
<rect x="982.3" y="930.5" width="7.2" height="10.6" fill="#000000"/>
<rect x="993.4" y="927" width="7.2" height="17.6" fill="#ffffff"/>
<rect x="993.4" y="930.5" width="7.2" height="10.6" fill="#000000"/>
<rect x="1004.4" y="927" width="7" height="17.6" fill="#ffffff"/>
<rect x="1004.4" y="930.5" width="7" height="10.6" fill="#000000"/>
<rect x="1015.2" y="927" width="7.2" height="17.6" fill="#ffffff"/>
<rect x="1015.2" y="930.5" width="7.2" height="10.6" fill="#000000"/>
<rect x="1026.3" y="927" width="7.4" height="17.6" fill="#ffffff"/>
<rect x="1026.3" y="930.5" width="7.4" height="10.6" fill="#000000"/>
<circle cx="1038.4" cy="931" r="3.4" fill="#fbc73b"/>
<rect x="1070.5" y="927" width="7.2" height="17.6" fill="#ffffff"/>
<rect x="1070.5" y="930.5" width="7.2" height="10.6" fill="#000000"/>
<rect x="1080.8" y="927" width="7.2" height="17.6" fill="#ffffff"/>
<rect x="1080.8" y="930.5" width="7.2" height="10.6" fill="#000000"/>
<circle cx="1093.8" cy="930.1" r="3.4" fill="#fbc73b"/>
<rect x="918.8" y="954" width="12.9" height="9" fill="#ffffff"/>
<rect x="921.1" y="954" width="8.3" height="9" fill="#8a733f"/>
<rect x="936" y="954" width="22" height="9" fill="#ffffff"/>
<rect x="940" y="954" width="14.1" height="9" fill="#8a733f"/>
<rect x="975.4" y="954" width="19.2" height="9" fill="#ffffff"/>
<rect x="978.9" y="954" width="12.3" height="9" fill="#8a733f"/>
<rect x="1019" y="954" width="27" height="9" fill="#ffffff"/>
<rect x="1023.9" y="954" width="17.3" height="9" fill="#8a733f"/>
<rect x="1050" y="954" width="16.6" height="9" fill="#ffffff"/>
<rect x="1053" y="954" width="10.6" height="9" fill="#8a733f"/>
<rect x="1071.8" y="954" width="16.7" height="9" fill="#ffffff"/>
<rect x="1074.8" y="954" width="10.7" height="9" fill="#8a733f"/>
<rect x="1103.4" y="928.4" width="7.2" height="16.2" fill="#ffffff"/>
<rect x="1103.4" y="931.6" width="7.2" height="9.7" fill="#000000"/>
<rect x="1115" y="928.4" width="7" height="16.2" fill="#ffffff"/>
<rect x="1115" y="931.6" width="7" height="9.7" fill="#000000"/>
<rect x="1126" y="928.4" width="7" height="16.2" fill="#ffffff"/>
<rect x="1126" y="931.6" width="7" height="9.7" fill="#000000"/>
<rect x="1137" y="928.4" width="7" height="16.2" fill="#ffffff"/>
<rect x="1137" y="931.6" width="7" height="9.7" fill="#000000"/>
<rect x="1147.9" y="928.4" width="6.5" height="16.2" fill="#ffffff"/>
<rect x="1147.9" y="931.6" width="6.5" height="9.7" fill="#a59a6e"/>
<rect x="1159" y="928.4" width="7" height="16.2" fill="#ffffff"/>
<rect x="1159" y="931.6" width="7" height="9.7" fill="#000000"/>
<rect x="1170" y="928.4" width="7.4" height="16.2" fill="#ffffff"/>
<rect x="1170" y="931.6" width="7.4" height="9.7" fill="#a59a6e"/>
<rect x="1180.5" y="928.4" width="7.2" height="16.2" fill="#ffffff"/>
<rect x="1180.5" y="931.6" width="7.2" height="9.7" fill="#000000"/>
<rect x="1192" y="928.4" width="7.3" height="16.2" fill="#ffffff"/>
<rect x="1192" y="931.6" width="7.3" height="9.7" fill="#a59a6e"/>
<rect x="1203" y="928.4" width="7.3" height="16.2" fill="#ffffff"/>
<rect x="1203" y="931.6" width="7.3" height="9.7" fill="#3a4152"/>
<rect x="1214.2" y="928.4" width="6.8" height="16.2" fill="#ffffff"/>
<rect x="1214.2" y="931.6" width="6.8" height="9.7" fill="#a59a6e"/>
<rect x="1224.5" y="928.4" width="7.5" height="16.2" fill="#ffffff"/>
<rect x="1224.5" y="931.6" width="7.5" height="9.7" fill="#000000"/>
<rect x="1237" y="934.8" width="6.8" height="16.8" fill="#ffffff"/>
<rect x="1237" y="938.2" width="6.8" height="10.1" fill="#5a573f"/>
<rect x="1248" y="934.8" width="6.6" height="16.8" fill="#ffffff"/>
<rect x="1248" y="938.2" width="6.6" height="10.1" fill="#5a573f"/>
<rect x="1261.8" y="927.6" width="6.9" height="17" fill="#ffffff"/>
<rect x="1261.8" y="931" width="6.9" height="10.2" fill="#5a573f"/>
<rect x="1273" y="927.6" width="7.3" height="17" fill="#ffffff"/>
<rect x="1273" y="931" width="7.3" height="10.2" fill="#5a573f"/>
<rect x="1286.7" y="934.8" width="8.3" height="16.8" fill="#ffffff"/>
<rect x="1286.7" y="938.2" width="8.3" height="10.1" fill="#000000"/>
<rect x="1146" y="959.3" width="20.6" height="40.4" fill="#ffffff"/>
<rect x="1146" y="968.2" width="20.6" height="22.6" fill="#86693f"/>
<rect x="1171" y="959.3" width="21" height="40.4" fill="#ffffff"/>
<rect x="1171" y="968.2" width="21" height="22.6" fill="#86693f"/>
<rect x="1143.5" y="984" width="2.5" height="14" fill="#a9abbc"/>
<rect x="1249" y="956.7" width="41" height="21.5" fill="#ffffff"/>
<rect x="1258" y="956.7" width="23" height="21.5" fill="#86693f"/>
<rect x="1344" y="934.8" width="11.5" height="23.2" fill="#b3b5c6"/>
<text x="0" y="0" font-size="6.5" fill="#3b46e6" transform="translate(1347.4 936.0) rotate(90)">P0V8S2</text>
<rect x="1300.8" y="934.8" width="50.2" height="62.2" fill="#b9b7ba"/>
<circle cx="1313.7" cy="949.3" r="4.4" fill="#665a58"/>
<rect x="1290" y="996" width="7" height="24" fill="#b3b5c6"/>
<text x="0" y="0" font-size="6.0" fill="#3b46e6" transform="translate(1291.4 997.2) rotate(90)">P0V8S2</text>
<rect x="1228.9" y="983" width="64.1" height="40" fill="#b9b7ba"/>
<circle cx="1240" cy="1018" r="4.6" fill="#665a58"/>
<rect x="1346" y="1006" width="9" height="17" fill="#b3b5c6"/>
<text x="0" y="0" font-size="6.5" fill="#3b46e6" transform="translate(1348.2 1007.2) rotate(90)">P0V8</text>
<rect x="1300.8" y="1006.8" width="48.9" height="16.2" fill="#77755b"/>
<path d="M1321 1023 L1327.5 1011.5 L1334 1023 Z" fill="#ffffff"/>
<rect x="1128.5" y="1020.5" width="7.5" height="2.5" fill="#ffffff"/>
<defs><clipPath id="ph"><rect x="69" y="287" width="641" height="736"/></clipPath><linearGradient id="shg" x1="0" y1="0" x2="0" y2="1"><stop offset="0" stop-color="#b8bab2"/><stop offset="0.18" stop-color="#a3a59c"/><stop offset="0.6" stop-color="#a8aaa1"/><stop offset="1" stop-color="#94968d"/></linearGradient><linearGradient id="shr" x1="0" y1="0" x2="1" y2="0"><stop offset="0" stop-color="#a0a4a1"/><stop offset="0.5" stop-color="#b1b5b2"/><stop offset="0.8" stop-color="#a3a6a1"/><stop offset="1" stop-color="#b0b0a6"/></linearGradient></defs>
<g clip-path="url(#ph)">
<rect x="84" y="287.6" width="616" height="735.4" fill="#1b191b"/>
<rect x="84" y="287.6" width="616" height="12.9" fill="#0f0f10"/>
<rect x="390" y="289" width="80" height="7" fill="#2a2a2b"/>
<rect x="656" y="300" width="50.5" height="723" fill="url(#shr)"/>
<rect x="697.5" y="312" width="9" height="711" fill="#b4b5ac"/>
<rect x="696" y="312" width="1.5" height="711" fill="#8d8f89"/>
<path d="M71 316 L78 303 L96 300 L650 299.5 L656 301 L700 312 L706.5 318 L706.5 340 L656 340 L656 348 Q655 335 642 334.7 L150 334.7 Q140 341 128 341.5 L79 341 L73 332 Z" fill="url(#shg)"/>
<path d="M71 316 L78 303 L96 301 L170 301 L165 320 L150 334 Q140 341 128 341.5 L79 341 L73 332 Z" fill="#a6a396"/>
<rect x="656" y="289" width="43" height="23" fill="#141415"/>
<rect x="645" y="296" width="12" height="10" fill="#c4c4bc" rx="3"/>
<rect x="79" y="338" width="14.8" height="685" fill="#2b2627"/>
<rect x="78.2" y="336" width="15.6" height="62" fill="#b7babd" rx="2"/>
<rect x="80" y="339" width="7" height="56" fill="#c9cccf" rx="2"/>
<rect x="78.2" y="428" width="15.6" height="99" fill="#b7babd" rx="2"/>
<rect x="80" y="431" width="7" height="93" fill="#c9cccf" rx="2"/>
<rect x="78.2" y="562" width="15.6" height="100" fill="#b7babd" rx="2"/>
<rect x="80" y="565" width="7" height="94" fill="#c9cccf" rx="2"/>
<rect x="78.2" y="696" width="15.6" height="99" fill="#b7babd" rx="2"/>
<rect x="80" y="699" width="7" height="93" fill="#c9cccf" rx="2"/>
<rect x="78.2" y="829" width="15.6" height="101" fill="#b7babd" rx="2"/>
<rect x="80" y="832" width="7" height="95" fill="#c9cccf" rx="2"/>
<rect x="78.2" y="963" width="15.6" height="60" fill="#b7babd" rx="2"/>
<rect x="80" y="966" width="7" height="54" fill="#c9cccf" rx="2"/>
<rect x="93.8" y="340" width="18.2" height="683" fill="#262122"/>
<path d="M112 335 H642 Q656 335 656 349 V1023 H112 Z" fill="#19181a"/>
<rect x="108.8" y="349.2" width="15.6" height="20.6" fill="#0e0d0e" rx="1.5"/>
<rect x="109.6" y="350" width="14" height="19" fill="#d9d9d6" rx="1.5"/>
<rect x="110.2" y="353.8" width="12.8" height="11.4" fill="#ad9b6c"/>
<rect x="127.8" y="341.2" width="23" height="13.1" fill="#0e0d0e" rx="1.5"/>
<rect x="128.6" y="342" width="21.4" height="11.5" fill="#d9d9d6" rx="1.5"/>
<rect x="132.9" y="342.6" width="12.8" height="10.3" fill="#ad9b6c"/>
<rect x="106" y="383" width="6" height="7" fill="#cfcfcf" rx="2"/>
<rect x="106" y="394" width="6" height="7" fill="#cfcfcf" rx="2"/>
<rect x="115" y="383" width="6" height="7" fill="#cfcfcf" rx="2"/>
<rect x="115" y="394" width="6" height="7" fill="#cfcfcf" rx="2"/>
<rect x="172" y="349" width="23" height="19" fill="#c9c9c9" rx="1"/>
<rect x="180" y="352" width="9" height="16" fill="#8a8a88"/>
<rect x="237" y="349" width="24" height="19" fill="#c9c9c9" rx="1"/>
<rect x="246" y="352" width="8" height="16" fill="#8a8a88"/>
<rect x="272.2" y="350.2" width="22.6" height="18.6" fill="#0e0d0e" rx="1.5"/>
<rect x="273" y="351" width="21" height="17" fill="#d9d9d6" rx="1.5"/>
<rect x="273.6" y="354.4" width="19.8" height="10.2" fill="#ad9b6c"/>
<rect x="312.4" y="348.5" width="44.2" height="19.5" fill="#a9a9a6" rx="3"/>
<rect x="359" y="348.5" width="45" height="19.5" fill="#8d8378" rx="3"/>
<rect x="423.2" y="348.2" width="38.6" height="20.6" fill="#0e0d0e" rx="1.5"/>
<rect x="424" y="349" width="37" height="19" fill="#d9d9d6" rx="1.5"/>
<rect x="431.4" y="349.6" width="22.2" height="17.8" fill="#ad9b6c"/>
<rect x="163" y="338" width="5" height="6" fill="#bdbdbd" rx="1"/>
<rect x="185" y="338" width="5" height="6" fill="#bdbdbd" rx="1"/>
<rect x="200" y="338" width="5" height="6" fill="#bdbdbd" rx="1"/>
<rect x="215" y="338" width="5" height="6" fill="#bdbdbd" rx="1"/>
<rect x="340" y="338" width="5" height="6" fill="#bdbdbd" rx="1"/>
<rect x="355" y="338" width="5" height="6" fill="#bdbdbd" rx="1"/>
<rect x="395" y="338" width="5" height="6" fill="#bdbdbd" rx="1"/>
<rect x="455" y="338" width="5" height="6" fill="#bdbdbd" rx="1"/>
<rect x="470" y="338" width="5" height="6" fill="#bdbdbd" rx="1"/>
<rect x="124" y="420" width="9" height="42" fill="#858585" rx="1"/>
<rect x="127" y="470" width="6" height="21" fill="#858585" rx="1"/>
<rect x="124" y="494" width="9" height="71" fill="#858585" rx="1"/>
<rect x="113.2" y="485.2" width="8.6" height="15.6" fill="#0e0d0e" rx="1.5"/>
<rect x="114" y="486" width="7" height="14" fill="#d9d9d6" rx="1.5"/>
<rect x="114.6" y="488.8" width="5.8" height="8.4" fill="#ad9b6c"/>
<rect x="472" y="339" width="168" height="7" fill="#19181a"/>
<rect x="475" y="338" width="5" height="6.5" fill="#c4c4c4" rx="1"/>
<rect x="488" y="338" width="5" height="6.5" fill="#c4c4c4" rx="1"/>
<rect x="500" y="338" width="5" height="6.5" fill="#c4c4c4" rx="1"/>
<rect x="512" y="338" width="5" height="6.5" fill="#c4c4c4" rx="1"/>
<rect x="526" y="338" width="5" height="6.5" fill="#c4c4c4" rx="1"/>
<rect x="540" y="338" width="5" height="6.5" fill="#c4c4c4" rx="1"/>
<rect x="600" y="338" width="5" height="6.5" fill="#c4c4c4" rx="1"/>
<rect x="620" y="338" width="5" height="6.5" fill="#c4c4c4" rx="1"/>
<rect x="473.2" y="347.2" width="15.6" height="10.6" fill="#0e0d0e" rx="1.5"/>
<rect x="474" y="348" width="14" height="9" fill="#d9d9d6" rx="1.5"/>
<rect x="476.8" y="348.6" width="8.4" height="7.8" fill="#ad9b6c"/>
<rect x="474.7" y="361.2" width="14.1" height="26.6" fill="#0e0d0e" rx="1.5"/>
<rect x="475.5" y="362" width="12.5" height="25" fill="#d9d9d6" rx="1.5"/>
<rect x="476.1" y="367" width="11.3" height="15" fill="#a4a49a"/>
<rect x="472.5" y="392" width="6" height="7" fill="#cfcfcf" rx="2"/>
<rect x="482.5" y="392" width="6" height="7" fill="#cfcfcf" rx="2"/>
<rect x="472.5" y="402" width="6" height="7" fill="#cfcfcf" rx="2"/>
<rect x="482.5" y="402" width="6" height="7" fill="#cfcfcf" rx="2"/>
<rect x="472.5" y="414" width="6" height="7" fill="#cfcfcf" rx="2"/>
<rect x="482.5" y="414" width="6" height="7" fill="#cfcfcf" rx="2"/>
<rect x="472.5" y="424" width="6" height="7" fill="#cfcfcf" rx="2"/>
<rect x="482.5" y="424" width="6" height="7" fill="#cfcfcf" rx="2"/>
<rect x="473.7" y="436.2" width="15.1" height="25.6" fill="#0e0d0e" rx="1.5"/>
<rect x="474.5" y="437" width="13.5" height="24" fill="#d9d9d6" rx="1.5"/>
<rect x="475.1" y="441.8" width="12.3" height="14.4" fill="#a4a49a"/>
<rect x="473.2" y="468.2" width="13.6" height="24.6" fill="#0e0d0e" rx="1.5"/>
<rect x="474" y="469" width="12" height="23" fill="#d9d9d6" rx="1.5"/>
<rect x="474.6" y="473.6" width="10.8" height="13.8" fill="#8f8f8a"/>
<rect x="491" y="346.5" width="110" height="121.5" fill="#0d0f16" rx="2"/>
<rect x="492" y="347.4" width="108" height="119.6" fill="#15213c"/>
<rect x="492" y="347.4" width="108" height="52.6" fill="#172542"/>
<circle cx="543" cy="361" r="1.6" fill="#0a0f1e"/>
<rect x="604.2" y="346.2" width="40" height="24.6" fill="#0e0d0e" rx="1.5"/>
<rect x="605" y="347" width="38.4" height="23" fill="#d9d9d6" rx="1.5"/>
<rect x="612.7" y="347.6" width="23" height="21.8" fill="#ad9b6c"/>
<rect x="604.2" y="371.7" width="40" height="25.1" fill="#0e0d0e" rx="1.5"/>
<rect x="605" y="372.5" width="38.4" height="23.5" fill="#d9d9d6" rx="1.5"/>
<rect x="612.7" y="373.1" width="23" height="22.3" fill="#ad9b6c"/>
<rect x="604.2" y="397.2" width="40" height="25.1" fill="#0e0d0e" rx="1.5"/>
<rect x="605" y="398" width="38.4" height="23.5" fill="#d9d9d6" rx="1.5"/>
<rect x="612.7" y="398.6" width="23" height="22.3" fill="#ad9b6c"/>
<rect x="604.2" y="423.7" width="40" height="24.6" fill="#0e0d0e" rx="1.5"/>
<rect x="605" y="424.5" width="38.4" height="23" fill="#d9d9d6" rx="1.5"/>
<rect x="612.7" y="425.1" width="23" height="21.8" fill="#ad9b6c"/>
<rect x="604.2" y="449.2" width="40" height="24.6" fill="#0e0d0e" rx="1.5"/>
<rect x="605" y="450" width="38.4" height="23" fill="#d9d9d6" rx="1.5"/>
<rect x="612.7" y="450.6" width="23" height="21.8" fill="#ad9b6c"/>
<rect x="604.2" y="474.2" width="40" height="26.6" fill="#0e0d0e" rx="1.5"/>
<rect x="605" y="475" width="38.4" height="25" fill="#d9d9d6" rx="1.5"/>
<rect x="612.7" y="475.6" width="23" height="23.8" fill="#ad9b6c"/>
<rect x="619.2" y="337.7" width="16.6" height="8.1" fill="#0e0d0e" rx="1.5"/>
<rect x="620" y="338.5" width="15" height="6.5" fill="#d9d9d6" rx="1.5"/>
<rect x="623" y="339.1" width="9" height="5.3" fill="#555"/>
<rect x="604.5" y="511.9" width="39.7" height="23.4" fill="#0e0d0e" rx="1.5"/>
<rect x="605.3" y="512.7" width="38.1" height="21.8" fill="#d9d9d6" rx="1.5"/>
<rect x="612.9" y="513.3" width="22.9" height="20.6" fill="#ad9b6c"/>
<rect x="492.2" y="470.2" width="17.3" height="10.1" fill="#0e0d0e" rx="1.5"/>
<rect x="493" y="471" width="15.7" height="8.5" fill="#d9d9d6" rx="1.5"/>
<rect x="496.1" y="471.6" width="9.4" height="7.3" fill="#8a8a86"/>
<rect x="492.2" y="481.2" width="23.6" height="13.6" fill="#0e0d0e" rx="1.5"/>
<rect x="493" y="482" width="22" height="12" fill="#d9d9d6" rx="1.5"/>
<rect x="497.4" y="482.6" width="13.2" height="10.8" fill="#ad9b6c"/>
<rect x="524.2" y="468.2" width="43.6" height="26.2" fill="#0e0d0e" rx="1.5"/>
<rect x="525" y="469" width="42" height="24.6" fill="#d9d9d6" rx="1.5"/>
<rect x="533.4" y="469.6" width="25.2" height="23.4" fill="#ad9b6c"/>
<rect x="573.2" y="470.2" width="23.6" height="13.1" fill="#0e0d0e" rx="1.5"/>
<rect x="574" y="471" width="22" height="11.5" fill="#d9d9d6" rx="1.5"/>
<rect x="578.4" y="471.6" width="13.2" height="10.3" fill="#96968e"/>
<rect x="474.8" y="496.7" width="39.8" height="24.5" fill="#0e0d0e" rx="1.5"/>
<rect x="475.6" y="497.5" width="38.2" height="22.9" fill="#d9d9d6" rx="1.5"/>
<rect x="483.2" y="498.1" width="22.9" height="21.7" fill="#ad9b6c"/>
<rect x="520.6" y="496.7" width="24.5" height="41.1" fill="#0e0d0e" rx="1.5"/>
<rect x="521.4" y="497.5" width="22.9" height="39.5" fill="#d9d9d6" rx="1.5"/>
<rect x="522" y="505.4" width="21.7" height="23.7" fill="#ad9b6c"/>
<rect x="546" y="496.7" width="23.2" height="41.1" fill="#0e0d0e" rx="1.5"/>
<rect x="546.8" y="497.5" width="21.6" height="39.5" fill="#d9d9d6" rx="1.5"/>
<rect x="547.4" y="505.4" width="20.4" height="23.7" fill="#ad9b6c"/>
<rect x="570.2" y="496.7" width="25" height="41.1" fill="#0e0d0e" rx="1.5"/>
<rect x="571" y="497.5" width="23.4" height="39.5" fill="#d9d9d6" rx="1.5"/>
<rect x="571.6" y="505.4" width="22.2" height="23.7" fill="#ad9b6c"/>
<rect x="491.2" y="525.9" width="23.3" height="12.9" fill="#0e0d0e" rx="1.5"/>
<rect x="492" y="526.7" width="21.7" height="11.3" fill="#d9d9d6" rx="1.5"/>
<rect x="496.3" y="527.3" width="13" height="10.1" fill="#ad9b6c"/>
<rect x="520.6" y="543.7" width="24.5" height="41.1" fill="#0e0d0e" rx="1.5"/>
<rect x="521.4" y="544.5" width="22.9" height="39.5" fill="#d9d9d6" rx="1.5"/>
<rect x="522" y="552.4" width="21.7" height="23.7" fill="#ad9b6c"/>
<rect x="544.7" y="543.7" width="24.5" height="41.1" fill="#0e0d0e" rx="1.5"/>
<rect x="545.5" y="544.5" width="22.9" height="39.5" fill="#d9d9d6" rx="1.5"/>
<rect x="546.1" y="552.4" width="21.7" height="23.7" fill="#ad9b6c"/>
<rect x="570.7" y="543.7" width="24.5" height="41.1" fill="#0e0d0e" rx="1.5"/>
<rect x="571.5" y="544.5" width="22.9" height="39.5" fill="#d9d9d6" rx="1.5"/>
<rect x="572.1" y="552.4" width="21.7" height="23.7" fill="#ad9b6c"/>
<rect x="598.2" y="543.7" width="21.9" height="41.1" fill="#0e0d0e" rx="1.5"/>
<rect x="599" y="544.5" width="20.3" height="39.5" fill="#d9d9d6" rx="1.5"/>
<rect x="599.6" y="552.4" width="19.1" height="23.7" fill="#ad9b6c"/>
<rect x="622.8" y="543.7" width="22.7" height="41.1" fill="#0e0d0e" rx="1.5"/>
<rect x="623.6" y="544.5" width="21.1" height="39.5" fill="#d9d9d6" rx="1.5"/>
<rect x="624.2" y="552.4" width="19.9" height="23.7" fill="#ad9b6c"/>
<rect x="492.6" y="542.2" width="23.2" height="13.3" fill="#0e0d0e" rx="1.5"/>
<rect x="493.4" y="543" width="21.6" height="11.7" fill="#d9d9d6" rx="1.5"/>
<rect x="497.7" y="543.6" width="13" height="10.5" fill="#8f8f88"/>
<rect x="492.6" y="559" width="23.2" height="14.3" fill="#0e0d0e" rx="1.5"/>
<rect x="493.4" y="559.8" width="21.6" height="12.7" fill="#d9d9d6" rx="1.5"/>
<rect x="497.7" y="560.4" width="13" height="11.5" fill="#8f8f88"/>
<rect x="492.6" y="575.5" width="23.2" height="11.8" fill="#0e0d0e" rx="1.5"/>
<rect x="493.4" y="576.3" width="21.6" height="10.2" fill="#d9d9d6" rx="1.5"/>
<rect x="497.7" y="576.9" width="13" height="9" fill="#9c8850"/>
<rect x="472" y="549" width="12" height="9" fill="#55504a" rx="2"/>
<rect x="479" y="550" width="5" height="7" fill="#bdbdbd" rx="2"/>
<rect x="472" y="563" width="12" height="9" fill="#55504a" rx="2"/>
<rect x="479" y="564" width="5" height="7" fill="#bdbdbd" rx="2"/>
<rect x="472" y="577" width="12" height="9" fill="#55504a" rx="2"/>
<rect x="479" y="578" width="5" height="7" fill="#bdbdbd" rx="2"/>
<rect x="474.8" y="592" width="42.3" height="23.2" fill="#0e0d0e" rx="1.5"/>
<rect x="475.6" y="592.8" width="40.7" height="21.6" fill="#d9d9d6" rx="1.5"/>
<rect x="483.7" y="593.4" width="24.4" height="20.4" fill="#5d574b"/>
<circle cx="533" cy="603" r="10" fill="#cfae5a"/>
<circle cx="533" cy="603" r="10" fill="none" stroke="#1a1a1a" stroke-width="1"/>
<rect x="549.8" y="590.7" width="23.2" height="39.8" fill="#0e0d0e" rx="1.5"/>
<rect x="550.6" y="591.5" width="21.6" height="38.2" fill="#d9d9d6" rx="1.5"/>
<rect x="551.2" y="599.1" width="20.4" height="22.9" fill="#ad9b6c"/>
<rect x="574" y="590.7" width="22.4" height="39.8" fill="#0e0d0e" rx="1.5"/>
<rect x="574.8" y="591.5" width="20.8" height="38.2" fill="#d9d9d6" rx="1.5"/>
<rect x="575.4" y="599.1" width="19.6" height="22.9" fill="#ad9b6c"/>
<rect x="600.5" y="586.7" width="45.2" height="70.3" fill="#0e0d0e" rx="3"/>
<rect x="601.5" y="587.7" width="43.2" height="68.3" fill="#b9b7b2" rx="3"/>
<rect x="603.5" y="590.5" width="39.2" height="62" fill="#594f4a" rx="2"/>
<circle cx="622.6" cy="609.8" r="10.3" fill="#e6d98a"/>
<rect x="467.2" y="618.7" width="23.2" height="38.5" fill="#0e0d0e" rx="1.5"/>
<rect x="468" y="619.5" width="21.6" height="36.9" fill="#d9d9d6" rx="1.5"/>
<rect x="468.6" y="626.9" width="20.4" height="22.1" fill="#5d574b"/>
<rect x="475" y="632" width="7.6" height="12" fill="#b9b9b9" rx="3"/>
<rect x="493.9" y="618.7" width="23.2" height="38.5" fill="#0e0d0e" rx="1.5"/>
<rect x="494.7" y="619.5" width="21.6" height="36.9" fill="#d9d9d6" rx="1.5"/>
<rect x="495.3" y="626.9" width="20.4" height="22.1" fill="#5d574b"/>
<rect x="501.7" y="632" width="7.6" height="12" fill="#b9b9b9" rx="3"/>
<rect x="521.8" y="620" width="24.5" height="39.8" fill="#0e0d0e" rx="1.5"/>
<rect x="522.6" y="620.8" width="22.9" height="38.2" fill="#d9d9d6" rx="1.5"/>
<rect x="523.2" y="628.4" width="21.7" height="22.9" fill="#ad9b6c"/>
<rect x="554.9" y="636" width="39.7" height="22.5" fill="#0e0d0e" rx="1.5"/>
<rect x="555.7" y="636.8" width="38.1" height="20.9" fill="#d9d9d6" rx="1.5"/>
<rect x="563.3" y="637.4" width="22.9" height="19.7" fill="#ad9b6c"/>
<rect x="521.8" y="665.8" width="24.5" height="14.3" fill="#0e0d0e" rx="1.5"/>
<rect x="522.6" y="666.6" width="22.9" height="12.7" fill="#d9d9d6" rx="1.5"/>
<rect x="527.2" y="667.2" width="13.7" height="11.5" fill="#8a8a80"/>
<rect x="553" y="670" width="15.4" height="8" fill="#bfbfbf" rx="3"/>
<rect x="573" y="662" width="72.7" height="45" fill="#0e0d0e" rx="4"/>
<rect x="574" y="663" width="70.7" height="43" fill="#a9abad" rx="4"/>
<circle cx="489.6" cy="702" r="10" fill="#cfae5a"/>
<rect x="526.9" y="681" width="38.5" height="24.5" fill="#0e0d0e" rx="1.5"/>
<rect x="527.7" y="681.8" width="36.9" height="22.9" fill="#d9d9d6" rx="1.5"/>
<rect x="535.1" y="682.4" width="22.1" height="21.7" fill="#ad9b6c"/>
<rect x="526.9" y="707.7" width="38.5" height="23.1" fill="#0e0d0e" rx="1.5"/>
<rect x="527.7" y="708.5" width="36.9" height="21.5" fill="#d9d9d6" rx="1.5"/>
<rect x="535.1" y="709.1" width="22.1" height="20.3" fill="#ad9b6c"/>
<rect x="533.2" y="734.2" width="41.1" height="23.6" fill="#0e0d0e" rx="1.5"/>
<rect x="534" y="735" width="39.5" height="22" fill="#d9d9d6" rx="1.5"/>
<rect x="541.9" y="735.6" width="23.7" height="20.8" fill="#ad9b6c"/>
<rect x="479.7" y="717" width="43.9" height="23.6" fill="#0e0d0e" rx="1.5"/>
<rect x="480.5" y="717.8" width="42.3" height="22" fill="#d9d9d6" rx="1.5"/>
<rect x="489" y="718.4" width="25.4" height="20.8" fill="#ad9b6c"/>
<rect x="506" y="689.4" width="15" height="8.9" fill="#bdbdbd" rx="3"/>
<rect x="468.2" y="743.2" width="24.6" height="17.6" fill="#0e0d0e" rx="1.5"/>
<rect x="469" y="744" width="23" height="16" fill="#d9d9d6" rx="1.5"/>
<rect x="473.6" y="744.6" width="13.8" height="14.8" fill="#ad9b6c"/>
<rect x="500.2" y="743.2" width="24.6" height="17.6" fill="#0e0d0e" rx="1.5"/>
<rect x="501" y="744" width="23" height="16" fill="#d9d9d6" rx="1.5"/>
<rect x="505.6" y="744.6" width="13.8" height="14.8" fill="#ad9b6c"/>
<rect x="388.8" y="619.2" width="23.6" height="38.3" fill="#0e0d0e" rx="1.5"/>
<rect x="389.6" y="620" width="22" height="36.7" fill="#d9d9d6" rx="1.5"/>
<rect x="390.2" y="627.3" width="20.8" height="22" fill="#5d574b"/>
<rect x="390.6" y="634" width="4" height="10" fill="#c9c9c9" rx="2"/>
<rect x="406.6" y="634" width="4" height="10" fill="#c9c9c9" rx="2"/>
<rect x="414.4" y="619.2" width="23.6" height="38.3" fill="#0e0d0e" rx="1.5"/>
<rect x="415.2" y="620" width="22" height="36.7" fill="#d9d9d6" rx="1.5"/>
<rect x="415.8" y="627.3" width="20.8" height="22" fill="#5d574b"/>
<rect x="416.2" y="634" width="4" height="10" fill="#c9c9c9" rx="2"/>
<rect x="432.2" y="634" width="4" height="10" fill="#c9c9c9" rx="2"/>
<rect x="441.2" y="619.2" width="23.6" height="38.3" fill="#0e0d0e" rx="1.5"/>
<rect x="442" y="620" width="22" height="36.7" fill="#d9d9d6" rx="1.5"/>
<rect x="442.6" y="627.3" width="20.8" height="22" fill="#5d574b"/>
<rect x="443" y="634" width="4" height="10" fill="#c9c9c9" rx="2"/>
<rect x="459" y="634" width="4" height="10" fill="#c9c9c9" rx="2"/>
<rect x="388.8" y="660.8" width="39.4" height="24.8" fill="#0e0d0e" rx="1.5"/>
<rect x="389.6" y="661.6" width="37.8" height="23.2" fill="#d9d9d6" rx="1.5"/>
<rect x="396" y="662.2" width="24.9" height="22" fill="#5d574b"/>
<rect x="403.5" y="662.5" width="10" height="4" fill="#c9c9c9" rx="2"/>
<rect x="403.5" y="680" width="10" height="4" fill="#c9c9c9" rx="2"/>
<rect x="432.2" y="660.8" width="39.3" height="24.8" fill="#0e0d0e" rx="1.5"/>
<rect x="433" y="661.6" width="37.7" height="23.2" fill="#d9d9d6" rx="1.5"/>
<rect x="439.4" y="662.2" width="24.9" height="22" fill="#5d574b"/>
<rect x="446.9" y="662.5" width="10" height="4" fill="#c9c9c9" rx="2"/>
<rect x="446.9" y="680" width="10" height="4" fill="#c9c9c9" rx="2"/>
<rect x="475.5" y="660.8" width="39.5" height="24.8" fill="#0e0d0e" rx="1.5"/>
<rect x="476.3" y="661.6" width="37.9" height="23.2" fill="#d9d9d6" rx="1.5"/>
<rect x="482.7" y="662.2" width="25" height="22" fill="#5d574b"/>
<rect x="490.2" y="662.5" width="10" height="4" fill="#c9c9c9" rx="2"/>
<rect x="490.2" y="680" width="10" height="4" fill="#c9c9c9" rx="2"/>
<rect x="388.8" y="687.6" width="39.4" height="23.6" fill="#0e0d0e" rx="1.5"/>
<rect x="389.6" y="688.4" width="37.8" height="22" fill="#d9d9d6" rx="1.5"/>
<rect x="396" y="689" width="24.9" height="20.8" fill="#5d574b"/>
<rect x="403.5" y="689.3" width="10" height="4" fill="#c9c9c9" rx="2"/>
<rect x="403.5" y="705.6" width="10" height="4" fill="#c9c9c9" rx="2"/>
<rect x="432.2" y="687.6" width="39.3" height="23.6" fill="#0e0d0e" rx="1.5"/>
<rect x="433" y="688.4" width="37.7" height="22" fill="#d9d9d6" rx="1.5"/>
<rect x="439.4" y="689" width="24.9" height="20.8" fill="#5d574b"/>
<rect x="446.9" y="689.3" width="10" height="4" fill="#c9c9c9" rx="2"/>
<rect x="446.9" y="705.6" width="10" height="4" fill="#c9c9c9" rx="2"/>
<rect x="388.8" y="713.2" width="40.7" height="24.9" fill="#0e0d0e" rx="1.5"/>
<rect x="389.6" y="714" width="39.1" height="23.3" fill="#d9d9d6" rx="1.5"/>
<rect x="397.4" y="714.6" width="23.5" height="22.1" fill="#ad9b6c"/>
<rect x="434" y="713.2" width="40.7" height="24.9" fill="#0e0d0e" rx="1.5"/>
<rect x="434.8" y="714" width="39.1" height="23.3" fill="#d9d9d6" rx="1.5"/>
<rect x="441.4" y="714.6" width="25.8" height="22.1" fill="#5d574b"/>
<rect x="449.3" y="714.8" width="10" height="4" fill="#c9c9c9" rx="2"/>
<rect x="449.3" y="732.5" width="10" height="4" fill="#c9c9c9" rx="2"/>
<rect x="389.6" y="744" width="6.5" height="17" fill="#c9c9c9" rx="3"/>
<rect x="389.6" y="750" width="6.5" height="5" fill="#55504a"/>
<rect x="400.6" y="744" width="6.5" height="17" fill="#c9c9c9" rx="3"/>
<rect x="400.6" y="750" width="6.5" height="5" fill="#55504a"/>
<rect x="411.6" y="744" width="6.5" height="17" fill="#c9c9c9" rx="3"/>
<rect x="411.6" y="750" width="6.5" height="5" fill="#55504a"/>
<rect x="422.6" y="744" width="6.5" height="17" fill="#c9c9c9" rx="3"/>
<rect x="422.6" y="750" width="6.5" height="5" fill="#55504a"/>
<rect x="433.6" y="744" width="6.5" height="17" fill="#c9c9c9" rx="3"/>
<rect x="433.6" y="750" width="6.5" height="5" fill="#55504a"/>
<rect x="445" y="748.8" width="17.5" height="10" fill="#0e0d0e" rx="1.5"/>
<rect x="445.8" y="749.6" width="15.9" height="8.4" fill="#d9d9d6" rx="1.5"/>
<rect x="449" y="750.2" width="9.5" height="7.2" fill="#ad9b6c"/>
<rect x="446.2" y="760.5" width="23.6" height="13.1" fill="#0e0d0e" rx="1.5"/>
<rect x="447" y="761.3" width="22" height="11.5" fill="#d9d9d6" rx="1.5"/>
<rect x="451.4" y="761.9" width="13.2" height="10.3" fill="#ad9b6c"/>
<rect x="486.5" y="759.8" width="40.7" height="23.6" fill="#0e0d0e" rx="1.5"/>
<rect x="487.3" y="760.6" width="39.1" height="22" fill="#d9d9d6" rx="1.5"/>
<rect x="495.1" y="761.2" width="23.5" height="20.8" fill="#ad9b6c"/>
<rect x="533.5" y="759.8" width="40.2" height="23.6" fill="#0e0d0e" rx="1.5"/>
<rect x="534.3" y="760.6" width="38.6" height="22" fill="#d9d9d6" rx="1.5"/>
<rect x="542" y="761.2" width="23.2" height="20.8" fill="#ad9b6c"/>
<rect x="388.8" y="767.2" width="13.8" height="24.6" fill="#0e0d0e" rx="1.5"/>
<rect x="389.6" y="768" width="12.2" height="23" fill="#d9d9d6" rx="1.5"/>
<rect x="390.2" y="772.6" width="11" height="13.8" fill="#8f8f86"/>
<rect x="405.9" y="767.2" width="12.6" height="24.6" fill="#0e0d0e" rx="1.5"/>
<rect x="406.7" y="768" width="11" height="23" fill="#d9d9d6" rx="1.5"/>
<rect x="407.3" y="772.6" width="9.8" height="13.8" fill="#a4a49a"/>
<rect x="421.8" y="767.2" width="13.8" height="24.6" fill="#0e0d0e" rx="1.5"/>
<rect x="422.6" y="768" width="12.2" height="23" fill="#d9d9d6" rx="1.5"/>
<rect x="423.2" y="772.6" width="11" height="13.8" fill="#a4a49a"/>
<rect x="388.8" y="839.2" width="22.3" height="15" fill="#0e0d0e" rx="1.5"/>
<rect x="389.6" y="840" width="20.7" height="13.4" fill="#d9d9d6" rx="1.5"/>
<rect x="393.7" y="840.6" width="12.4" height="12.2" fill="#a4a49a"/>
<rect x="394" y="797" width="6.5" height="7" fill="#c4c4c4" rx="3"/>
<rect x="404" y="797" width="6.5" height="7" fill="#c4c4c4" rx="3"/>
<rect x="417" y="797" width="6.5" height="7" fill="#c4c4c4" rx="3"/>
<rect x="427" y="797" width="6.5" height="7" fill="#c4c4c4" rx="3"/>
<rect x="420" y="812" width="6.5" height="7" fill="#c4c4c4" rx="3"/>
<rect x="417" y="826" width="6.5" height="7" fill="#c4c4c4" rx="3"/>
<rect x="428" y="838" width="6.5" height="7" fill="#c4c4c4" rx="3"/>
<rect x="440" y="838" width="6.5" height="7" fill="#c4c4c4" rx="3"/>
<rect x="390.7" y="809.2" width="12.1" height="24.6" fill="#0e0d0e" rx="1.5"/>
<rect x="391.5" y="810" width="10.5" height="23" fill="#d9d9d6" rx="1.5"/>
<rect x="392.1" y="814.6" width="9.3" height="13.8" fill="#2a2828"/>
<rect x="440.2" y="775.9" width="41.6" height="23.5" fill="#0e0d0e" rx="1.5"/>
<rect x="441" y="776.7" width="40" height="21.9" fill="#d9d9d6" rx="1.5"/>
<rect x="449" y="777.3" width="24" height="20.7" fill="#a0a098"/>
<rect x="490.2" y="784.9" width="23.6" height="14.5" fill="#0e0d0e" rx="1.5"/>
<rect x="491" y="785.7" width="22" height="12.9" fill="#d9d9d6" rx="1.5"/>
<rect x="495.4" y="786.3" width="13.2" height="11.7" fill="#8f8f86"/>
<rect x="522.6" y="784.9" width="23.2" height="14.5" fill="#0e0d0e" rx="1.5"/>
<rect x="523.4" y="785.7" width="21.6" height="12.9" fill="#d9d9d6" rx="1.5"/>
<rect x="527.7" y="786.3" width="13" height="11.7" fill="#8f8f86"/>
<rect x="553.2" y="784.9" width="25" height="14.5" fill="#0e0d0e" rx="1.5"/>
<rect x="554" y="785.7" width="23.4" height="12.9" fill="#d9d9d6" rx="1.5"/>
<rect x="558.7" y="786.3" width="14" height="11.7" fill="#8f8f86"/>
<rect x="439" y="802.9" width="23.5" height="45.3" fill="#0e0d0e" rx="1.5"/>
<rect x="439.8" y="803.7" width="21.9" height="43.7" fill="#d9d9d6" rx="1.5"/>
<rect x="440.4" y="812.4" width="20.7" height="26.2" fill="#ad9b6c"/>
<rect x="465.5" y="802.9" width="22.7" height="45.3" fill="#0e0d0e" rx="1.5"/>
<rect x="466.3" y="803.7" width="21.1" height="43.7" fill="#d9d9d6" rx="1.5"/>
<rect x="466.9" y="812.4" width="19.9" height="26.2" fill="#ad9b6c"/>
<rect x="491.7" y="802.9" width="22.1" height="45.3" fill="#0e0d0e" rx="1.5"/>
<rect x="492.5" y="803.7" width="20.5" height="43.7" fill="#d9d9d6" rx="1.5"/>
<rect x="493.1" y="812.4" width="19.3" height="26.2" fill="#ad9b6c"/>
<rect x="516.9" y="802.9" width="22.7" height="45.3" fill="#0e0d0e" rx="1.5"/>
<rect x="517.7" y="803.7" width="21.1" height="43.7" fill="#d9d9d6" rx="1.5"/>
<rect x="518.3" y="812.4" width="19.9" height="26.2" fill="#ad9b6c"/>
<rect x="543.2" y="802.9" width="22.1" height="45.3" fill="#0e0d0e" rx="1.5"/>
<rect x="544" y="803.7" width="20.5" height="43.7" fill="#d9d9d6" rx="1.5"/>
<rect x="544.6" y="812.4" width="19.3" height="26.2" fill="#ad9b6c"/>
<rect x="568.2" y="805.2" width="13.6" height="25" fill="#0e0d0e" rx="1.5"/>
<rect x="569" y="806" width="12" height="23.4" fill="#d9d9d6" rx="1.5"/>
<rect x="569.6" y="810.7" width="10.8" height="14" fill="#ad9b6c"/>
<rect x="424.9" y="809.2" width="10.6" height="21" fill="#0e0d0e" rx="1.5"/>
<rect x="425.7" y="810" width="9" height="19.4" fill="#d9d9d6" rx="1.5"/>
<rect x="426.3" y="813.9" width="7.8" height="11.6" fill="#ad9b6c"/>
<rect x="484" y="850.2" width="20.8" height="12.1" fill="#0e0d0e" rx="1.5"/>
<rect x="484.8" y="851" width="19.2" height="10.5" fill="#d9d9d6" rx="1.5"/>
<rect x="488.6" y="851.6" width="11.5" height="9.3" fill="#ad9b6c"/>
<rect x="516.2" y="850.2" width="20.6" height="12.1" fill="#0e0d0e" rx="1.5"/>
<rect x="517" y="851" width="19" height="10.5" fill="#d9d9d6" rx="1.5"/>
<rect x="520.8" y="851.6" width="11.4" height="9.3" fill="#ad9b6c"/>
<rect x="548.2" y="850.2" width="19.6" height="12.1" fill="#0e0d0e" rx="1.5"/>
<rect x="549" y="851" width="18" height="10.5" fill="#d9d9d6" rx="1.5"/>
<rect x="552.6" y="851.6" width="10.8" height="9.3" fill="#ad9b6c"/>
<rect x="591.2" y="851" width="17.6" height="9.8" fill="#0e0d0e" rx="1.5"/>
<rect x="592" y="851.8" width="16" height="8.2" fill="#d9d9d6" rx="1.5"/>
<rect x="595.2" y="852.4" width="9.6" height="7" fill="#ad9b6c"/>
<rect x="440" y="852" width="6" height="9" fill="#c4c4c4" rx="2"/>
<rect x="452" y="852" width="6" height="9" fill="#c4c4c4" rx="2"/>
<rect x="463" y="852" width="6" height="9" fill="#c4c4c4" rx="2"/>
<rect x="473" y="852" width="6" height="9" fill="#c4c4c4" rx="2"/>
<rect x="577" y="852" width="6" height="9" fill="#c4c4c4" rx="2"/>
<rect x="585" y="803.7" width="70" height="46.3" fill="#1d1d22"/>
<text x="0" y="0" font-size="4.5" fill="#3c3c44" transform="translate(607 812) rotate(90)">338S00248</text>
<text x="0" y="0" font-size="4.5" fill="#3c3c44" transform="translate(625 812) rotate(90)">TI 76AVPH</text>
<rect x="138" y="626" width="252" height="212" fill="#222124" rx="6"/>
<rect x="142.6" y="626" width="222.4" height="207.6" fill="#121317" rx="3"/>
<text x="161.5" y="707.7" font-size="19" fill="#3a3b40" letter-spacing="4.4" font-family="Liberation Mono,monospace">338S00309-B0</text>
<text x="161.5" y="733.7" font-size="19" fill="#3a3b40" letter-spacing="3.3" font-family="Liberation Mono,monospace">1729PHFW</text>
<circle cx="332" cy="726" r="11" fill="none" stroke="#3c3d42" stroke-width="1.2"/>
<text x="325" y="730" font-size="11" fill="#3c3d42">e6</text>
<rect x="113.9" y="586.1" width="23.2" height="13.2" fill="#0e0d0e" rx="1.5"/>
<rect x="114.7" y="586.9" width="21.6" height="11.6" fill="#d9d9d6" rx="1.5"/>
<rect x="120.3" y="587.5" width="10.4" height="10.4" fill="#a8a590"/>
<rect x="113.9" y="601.4" width="23.2" height="13.2" fill="#0e0d0e" rx="1.5"/>
<rect x="114.7" y="602.2" width="21.6" height="11.6" fill="#d9d9d6" rx="1.5"/>
<rect x="120.3" y="602.8" width="10.4" height="10.4" fill="#a8a590"/>
<rect x="113.9" y="616.7" width="23.2" height="13.2" fill="#0e0d0e" rx="1.5"/>
<rect x="114.7" y="617.5" width="21.6" height="11.6" fill="#d9d9d6" rx="1.5"/>
<rect x="120.3" y="618.1" width="10.4" height="10.4" fill="#a8a590"/>
<rect x="113.9" y="631.9" width="23.2" height="13.2" fill="#0e0d0e" rx="1.5"/>
<rect x="114.7" y="632.7" width="21.6" height="11.6" fill="#d9d9d6" rx="1.5"/>
<rect x="120.3" y="633.3" width="10.4" height="10.4" fill="#a8a590"/>
<rect x="113.9" y="648.4" width="23.2" height="13.2" fill="#0e0d0e" rx="1.5"/>
<rect x="114.7" y="649.2" width="21.6" height="11.6" fill="#d9d9d6" rx="1.5"/>
<rect x="120.3" y="649.8" width="10.4" height="10.4" fill="#b08a4a"/>
<rect x="113.9" y="664.5" width="23.2" height="13.2" fill="#0e0d0e" rx="1.5"/>
<rect x="114.7" y="665.3" width="21.6" height="11.6" fill="#d9d9d6" rx="1.5"/>
<rect x="120.3" y="665.9" width="10.4" height="10.4" fill="#a8a590"/>
<rect x="113.9" y="680.2" width="23.2" height="13.2" fill="#0e0d0e" rx="1.5"/>
<rect x="114.7" y="681" width="21.6" height="11.6" fill="#d9d9d6" rx="1.5"/>
<rect x="120.3" y="681.6" width="10.4" height="10.4" fill="#a8a590"/>
<rect x="113.9" y="696.7" width="23.2" height="13.2" fill="#0e0d0e" rx="1.5"/>
<rect x="114.7" y="697.5" width="21.6" height="11.6" fill="#d9d9d6" rx="1.5"/>
<rect x="120.3" y="698.1" width="10.4" height="10.4" fill="#a8a590"/>
<rect x="113.9" y="713.3" width="23.2" height="13.2" fill="#0e0d0e" rx="1.5"/>
<rect x="114.7" y="714.1" width="21.6" height="11.6" fill="#d9d9d6" rx="1.5"/>
<rect x="120.3" y="714.7" width="10.4" height="10.4" fill="#a8a590"/>
<rect x="113.9" y="729.8" width="23.2" height="13.2" fill="#0e0d0e" rx="1.5"/>
<rect x="114.7" y="730.6" width="21.6" height="11.6" fill="#d9d9d6" rx="1.5"/>
<rect x="120.3" y="731.2" width="10.4" height="10.4" fill="#a8a590"/>
<rect x="113.9" y="746.3" width="23.2" height="13.2" fill="#0e0d0e" rx="1.5"/>
<rect x="114.7" y="747.1" width="21.6" height="11.6" fill="#d9d9d6" rx="1.5"/>
<rect x="120.3" y="747.7" width="10.4" height="10.4" fill="#a8a590"/>
<rect x="113.9" y="762.9" width="23.2" height="13.2" fill="#0e0d0e" rx="1.5"/>
<rect x="114.7" y="763.7" width="21.6" height="11.6" fill="#d9d9d6" rx="1.5"/>
<rect x="120.3" y="764.3" width="10.4" height="10.4" fill="#b08a4a"/>
<rect x="113.9" y="784.5" width="23.2" height="13.2" fill="#0e0d0e" rx="1.5"/>
<rect x="114.7" y="785.3" width="21.6" height="11.6" fill="#d9d9d6" rx="1.5"/>
<rect x="120.3" y="785.9" width="10.4" height="10.4" fill="#a8a590"/>
<rect x="113.9" y="802.3" width="23.2" height="13.2" fill="#0e0d0e" rx="1.5"/>
<rect x="114.7" y="803.1" width="21.6" height="11.6" fill="#d9d9d6" rx="1.5"/>
<rect x="120.3" y="803.7" width="10.4" height="10.4" fill="#a8a590"/>
<rect x="113.9" y="818.8" width="23.2" height="13.2" fill="#0e0d0e" rx="1.5"/>
<rect x="114.7" y="819.6" width="21.6" height="11.6" fill="#d9d9d6" rx="1.5"/>
<rect x="120.3" y="820.2" width="10.4" height="10.4" fill="#a8a590"/>
<rect x="164.7" y="839.2" width="26.6" height="14.2" fill="#0e0d0e" rx="1.5"/>
<rect x="165.5" y="840" width="25" height="12.6" fill="#d9d9d6" rx="1.5"/>
<rect x="173" y="840.6" width="10" height="11.4" fill="#a8a590"/>
<rect x="197.8" y="839.2" width="26.6" height="14.2" fill="#0e0d0e" rx="1.5"/>
<rect x="198.6" y="840" width="25" height="12.6" fill="#d9d9d6" rx="1.5"/>
<rect x="206.1" y="840.6" width="10" height="11.4" fill="#a8a590"/>
<rect x="229.6" y="839.2" width="26.6" height="14.2" fill="#0e0d0e" rx="1.5"/>
<rect x="230.4" y="840" width="25" height="12.6" fill="#d9d9d6" rx="1.5"/>
<rect x="237.9" y="840.6" width="10" height="11.4" fill="#a8a590"/>
<rect x="261.3" y="839.2" width="26.6" height="14.2" fill="#0e0d0e" rx="1.5"/>
<rect x="262.1" y="840" width="25" height="12.6" fill="#d9d9d6" rx="1.5"/>
<rect x="269.6" y="840.6" width="10" height="11.4" fill="#a8a590"/>
<rect x="293.1" y="839.2" width="26.6" height="14.2" fill="#0e0d0e" rx="1.5"/>
<rect x="293.9" y="840" width="25" height="12.6" fill="#d9d9d6" rx="1.5"/>
<rect x="301.4" y="840.6" width="10" height="11.4" fill="#a8a590"/>
<rect x="323.6" y="839.2" width="26.6" height="14.2" fill="#0e0d0e" rx="1.5"/>
<rect x="324.4" y="840" width="25" height="12.6" fill="#d9d9d6" rx="1.5"/>
<rect x="331.9" y="840.6" width="10" height="11.4" fill="#a8a590"/>
<rect x="355.4" y="839.2" width="26.6" height="14.2" fill="#0e0d0e" rx="1.5"/>
<rect x="356.2" y="840" width="25" height="12.6" fill="#d9d9d6" rx="1.5"/>
<rect x="363.7" y="840.6" width="10" height="11.4" fill="#a8a590"/>
<rect x="387.2" y="839.2" width="26.6" height="14.2" fill="#0e0d0e" rx="1.5"/>
<rect x="388" y="840" width="25" height="12.6" fill="#d9d9d6" rx="1.5"/>
<rect x="395.5" y="840.6" width="10" height="11.4" fill="#a8a590"/>
<rect x="126.8" y="855" width="73.9" height="59.7" fill="#0e0d0e" rx="7"/>
<rect x="127.8" y="856" width="71.9" height="57.7" fill="#a5a6a9" rx="7"/>
<circle cx="180" cy="874.4" r="3.6" fill="#0d1024"/>
<rect x="203.8" y="856.5" width="72.2" height="45" fill="#0e0d0e" rx="3"/>
<rect x="204.8" y="857.5" width="70.2" height="43" fill="#c4c2bc" rx="3"/>
<rect x="207.8" y="860" width="64.2" height="38" fill="#5b4f49" rx="2"/>
<circle cx="252" cy="878.7" r="10.5" fill="#ead98a"/>
<rect x="216" y="907" width="72.8" height="45.6" fill="#0e0d0e" rx="3"/>
<rect x="217" y="908" width="70.8" height="43.6" fill="#c4c2bc" rx="3"/>
<rect x="220" y="910.5" width="64.8" height="38.6" fill="#5b4f49" rx="2"/>
<circle cx="264" cy="929.6" r="10.5" fill="#ead98a"/>
<rect x="282.7" y="855.2" width="38.9" height="23.6" fill="#0e0d0e" rx="1.5"/>
<rect x="283.5" y="856" width="37.3" height="22" fill="#d9d9d6" rx="1.5"/>
<rect x="291" y="856.6" width="22.4" height="20.8" fill="#ad9b6c"/>
<rect x="282.7" y="880.7" width="38.9" height="23.6" fill="#0e0d0e" rx="1.5"/>
<rect x="283.5" y="881.5" width="37.3" height="22" fill="#d9d9d6" rx="1.5"/>
<rect x="291" y="882.1" width="22.4" height="20.8" fill="#ad9b6c"/>
<rect x="292.2" y="910.2" width="24.3" height="43.6" fill="#0e0d0e" rx="1.5"/>
<rect x="293" y="911" width="22.7" height="42" fill="#d9d9d6" rx="1.5"/>
<rect x="293.6" y="919.4" width="21.5" height="25.2" fill="#ad9b6c"/>
<rect x="357" y="867" width="61" height="51.5" fill="#0e0d0e" rx="4"/>
<rect x="358" y="868" width="59" height="49.5" fill="#d0cfc8" rx="4"/>
<rect x="361" y="871" width="53" height="43.5" fill="#b9b5a8" rx="3"/>
<text x="0" y="0" font-size="9.5" fill="#55524a" transform="translate(405 881) rotate(180)" letter-spacing="0.8">UG50</text>
<text x="0" y="0" font-size="9.5" fill="#55524a" transform="translate(405 894) rotate(180)" letter-spacing="0.8">T240</text>
<rect x="334.7" y="873" width="7" height="7" fill="#c9c9c9" rx="3"/>
<rect x="334.7" y="884" width="7" height="7" fill="#c9c9c9" rx="3"/>
<rect x="334.7" y="899" width="7" height="7" fill="#c9c9c9" rx="3"/>
<rect x="334.7" y="909" width="7" height="7" fill="#c9c9c9" rx="3"/>
<rect x="345.5" y="873" width="7" height="7" fill="#c9c9c9" rx="3"/>
<rect x="345.5" y="884" width="7" height="7" fill="#c9c9c9" rx="3"/>
<rect x="345.5" y="899" width="7" height="7" fill="#c9c9c9" rx="3"/>
<rect x="345.5" y="909" width="7" height="7" fill="#c9c9c9" rx="3"/>
<rect x="169.8" y="917.2" width="39" height="23.6" fill="#0e0d0e" rx="1.5"/>
<rect x="170.6" y="918" width="37.4" height="22" fill="#d9d9d6" rx="1.5"/>
<rect x="178.1" y="918.6" width="22.4" height="20.8" fill="#ad9b6c"/>
<rect x="169.8" y="943.2" width="39" height="23.6" fill="#0e0d0e" rx="1.5"/>
<rect x="170.6" y="944" width="37.4" height="22" fill="#d9d9d6" rx="1.5"/>
<rect x="178.1" y="944.6" width="22.4" height="20.8" fill="#ad9b6c"/>
<rect x="170.6" y="976.2" width="28.2" height="14.2" fill="#0e0d0e" rx="1.5"/>
<rect x="171.4" y="977" width="26.6" height="12.6" fill="#d9d9d6" rx="1.5"/>
<rect x="176.7" y="977.6" width="16" height="11.4" fill="#8f8f86"/>
<rect x="201.5" y="976.2" width="25.1" height="14.2" fill="#0e0d0e" rx="1.5"/>
<rect x="202.3" y="977" width="23.5" height="12.6" fill="#d9d9d6" rx="1.5"/>
<rect x="207" y="977.6" width="14.1" height="11.4" fill="#a89a74"/>
<rect x="232.6" y="966" width="40.9" height="24.8" fill="#0e0d0e" rx="1.5"/>
<rect x="233.4" y="966.8" width="39.3" height="23.2" fill="#d9d9d6" rx="1.5"/>
<rect x="241.3" y="967.4" width="23.6" height="22" fill="#b09454"/>
<rect x="280" y="966" width="41.6" height="24.8" fill="#0e0d0e" rx="1.5"/>
<rect x="280.8" y="966.8" width="40" height="23.2" fill="#d9d9d6" rx="1.5"/>
<rect x="288.8" y="967.4" width="24" height="22" fill="#8c8468"/>
<rect x="230" y="957" width="6" height="7" fill="#c9c9c9" rx="3"/>
<rect x="242" y="957" width="6" height="7" fill="#c9c9c9" rx="3"/>
<rect x="254" y="957" width="6" height="7" fill="#c9c9c9" rx="3"/>
<rect x="266" y="957" width="6" height="7" fill="#c9c9c9" rx="3"/>
<rect x="278" y="957" width="6" height="7" fill="#c9c9c9" rx="3"/>
<rect x="290" y="957" width="6" height="7" fill="#c9c9c9" rx="3"/>
<rect x="302" y="957" width="6" height="7" fill="#c9c9c9" rx="3"/>
<rect x="313" y="957" width="6" height="7" fill="#c9c9c9" rx="3"/>
<rect x="321.2" y="933.2" width="14.3" height="24.3" fill="#0e0d0e" rx="1.5"/>
<rect x="322" y="934" width="12.7" height="22.7" fill="#d9d9d6" rx="1.5"/>
<rect x="322.6" y="938.5" width="11.5" height="13.6" fill="#ad9b6c"/>
<rect x="326.2" y="963.5" width="13.1" height="25.7" fill="#0e0d0e" rx="1.5"/>
<rect x="327" y="964.3" width="11.5" height="24.1" fill="#d9d9d6" rx="1.5"/>
<rect x="327.6" y="969.1" width="10.3" height="14.5" fill="#9a9a92"/>
<rect x="354.2" y="942" width="14.2" height="25.6" fill="#0e0d0e" rx="1.5"/>
<rect x="355" y="942.8" width="12.6" height="24" fill="#d9d9d6" rx="1.5"/>
<rect x="355.6" y="947.6" width="11.4" height="14.4" fill="#ad9b6c"/>
<rect x="352.9" y="972.2" width="24.4" height="42.3" fill="#0e0d0e" rx="1.5"/>
<rect x="353.7" y="973" width="22.8" height="40.7" fill="#d9d9d6" rx="1.5"/>
<rect x="354.3" y="981.1" width="21.6" height="24.4" fill="#ad9b6c"/>
<rect x="379.5" y="988.8" width="23.1" height="42" fill="#0e0d0e" rx="1.5"/>
<rect x="380.3" y="989.6" width="21.5" height="40.4" fill="#d9d9d6" rx="1.5"/>
<rect x="380.9" y="997.7" width="20.3" height="24.2" fill="#ad9b6c"/>
<rect x="313.6" y="995.2" width="25.7" height="37.6" fill="#0e0d0e" rx="1.5"/>
<rect x="314.4" y="996" width="24.1" height="36" fill="#d9d9d6" rx="1.5"/>
<rect x="315" y="1003.2" width="22.9" height="21.6" fill="#b8984e"/>
<rect x="392.2" y="928.1" width="39.6" height="23.1" fill="#0e0d0e" rx="1.5"/>
<rect x="393" y="928.9" width="38" height="21.5" fill="#d9d9d6" rx="1.5"/>
<rect x="400.6" y="929.5" width="22.8" height="20.3" fill="#ad9b6c"/>
<rect x="440.2" y="910.9" width="15.6" height="9.3" fill="#0e0d0e" rx="1.5"/>
<rect x="441" y="911.7" width="14" height="7.7" fill="#d9d9d6" rx="1.5"/>
<rect x="443.8" y="912.3" width="8.4" height="6.5" fill="#ad9b6c"/>
<rect x="432.6" y="865.9" width="23.5" height="38.9" fill="#0e0d0e" rx="1.5"/>
<rect x="433.4" y="866.7" width="21.9" height="37.3" fill="#d9d9d6" rx="1.5"/>
<rect x="434" y="874.2" width="20.7" height="22.4" fill="#ad9b6c"/>
<rect x="421.1" y="1000.8" width="18.3" height="30" fill="#0e0d0e" rx="1.5"/>
<rect x="421.9" y="1001.6" width="16.7" height="28.4" fill="#d9d9d6" rx="1.5"/>
<rect x="422.5" y="1007.3" width="15.5" height="17" fill="#ad9b6c"/>
<rect x="343" y="958" width="6" height="7" fill="#c4c4c4" rx="3"/>
<rect x="343" y="975" width="6" height="7" fill="#c4c4c4" rx="3"/>
<rect x="343" y="992" width="6" height="7" fill="#c4c4c4" rx="3"/>
<rect x="343" y="1008" width="6" height="7" fill="#c4c4c4" rx="3"/>
<rect x="384" y="936" width="6" height="7" fill="#c4c4c4" rx="3"/>
<rect x="384" y="958" width="6" height="7" fill="#c4c4c4" rx="3"/>
<rect x="384" y="1008" width="6" height="7" fill="#c4c4c4" rx="3"/>
<rect x="392" y="936" width="6" height="7" fill="#c4c4c4" rx="3"/>
<rect x="392" y="992" width="6" height="7" fill="#c4c4c4" rx="3"/>
<rect x="407" y="936" width="6" height="7" fill="#c4c4c4" rx="3"/>
<rect x="407" y="992" width="6" height="7" fill="#c4c4c4" rx="3"/>
<rect x="418" y="958" width="6" height="7" fill="#c4c4c4" rx="3"/>
<rect x="418" y="975" width="6" height="7" fill="#c4c4c4" rx="3"/>
<rect x="418" y="992" width="6" height="7" fill="#c4c4c4" rx="3"/>
<rect x="418" y="1008" width="6" height="7" fill="#c4c4c4" rx="3"/>
<rect x="429" y="936" width="6" height="7" fill="#c4c4c4" rx="3"/>
<rect x="429" y="958" width="6" height="7" fill="#c4c4c4" rx="3"/>
<rect x="429" y="1008" width="6" height="7" fill="#c4c4c4" rx="3"/>
<rect x="441" y="936" width="6" height="7" fill="#c4c4c4" rx="3"/>
<rect x="441" y="958" width="6" height="7" fill="#c4c4c4" rx="3"/>
<rect x="441" y="975" width="6" height="7" fill="#c4c4c4" rx="3"/>
<rect x="441" y="1008" width="6" height="7" fill="#c4c4c4" rx="3"/>
<rect x="452" y="936" width="6" height="7" fill="#c4c4c4" rx="3"/>
<rect x="452" y="992" width="6" height="7" fill="#c4c4c4" rx="3"/>
<rect x="120.8" y="939" width="34.2" height="48" fill="#0b0b0d"/>
<rect x="113.5" y="942" width="7" height="8" fill="#bdbdbd" rx="3"/>
<rect x="113.5" y="953" width="7" height="8" fill="#bdbdbd" rx="3"/>
<rect x="113.5" y="968" width="7" height="8" fill="#bdbdbd" rx="3"/>
<rect x="113.5" y="978" width="7" height="8" fill="#bdbdbd" rx="3"/>
<rect x="125" y="997.7" width="39.6" height="21.8" fill="#0e0d0e" rx="1.5"/>
<rect x="125.8" y="998.5" width="38" height="20.2" fill="#d9d9d6" rx="1.5"/>
<rect x="133.4" y="999.1" width="22.8" height="19" fill="#ad9b6c"/>
<rect x="171" y="994.7" width="142" height="28.3" fill="#17171b" rx="2"/>
<text x="200.5" y="1022.5" font-size="10.5" fill="#35353b" letter-spacing="1.6" font-family="Liberation Mono,monospace">QUALCOMM</text>
<rect x="461.7" y="866" width="8.5" height="155.7" fill="#16f0f5"/>
<rect x="461.7" y="1013" width="155.3" height="8.7" fill="#16f0f5"/>
<rect x="470" y="864" width="148.5" height="149" fill="#262a37"/>
<rect x="470" y="864" width="148.5" height="2" fill="#3a3e48"/>
<circle cx="466" cy="885.4" r="3.5" fill="#fbd23b"/>
<circle cx="466" cy="900" r="3.5" fill="#fbd23b"/>
<circle cx="466" cy="914.7" r="3.5" fill="#9a9ea8"/>
<circle cx="466" cy="929.4" r="3.5" fill="#fbd23b"/>
<circle cx="466" cy="944" r="3.5" fill="#fbd23b"/>
<circle cx="466" cy="958.6" r="3.5" fill="#fbd23b"/>
<circle cx="466" cy="973.3" r="3.5" fill="#fbd23b"/>
<circle cx="466" cy="987.9" r="3.5" fill="#3f7fe8"/>
<circle cx="466" cy="1002.6" r="3.5" fill="#fbd23b"/>
<circle cx="466" cy="870.5" r="3.3" fill="#9a9ea8"/>
<circle cx="466" cy="1017.3" r="3.3" fill="#9a9ea8"/>
<circle cx="480.5" cy="1017.3" r="3.5" fill="#fbd23b"/>
<circle cx="495.1" cy="1017.3" r="3.5" fill="#fbd23b"/>
<circle cx="509.8" cy="1017.3" r="3.5" fill="#fbd23b"/>
<circle cx="524.5" cy="1017.3" r="3.5" fill="#fbd23b"/>
<circle cx="539.1" cy="1017.3" r="3.5" fill="#fbd23b"/>
<circle cx="553.8" cy="1017.3" r="3.5" fill="#fbd23b"/>
<circle cx="568.4" cy="1017.3" r="3.5" fill="#9a9ea8"/>
<circle cx="583" cy="1017.3" r="3.5" fill="#fbd23b"/>
<circle cx="597.7" cy="1017.3" r="3.5" fill="#fbd23b"/>
<circle cx="612.4" cy="1017.3" r="3.5" fill="#fbd23b"/>
<circle cx="612.3" cy="1017.3" r="3.3" fill="#9a9ea8"/>
<rect x="623.2" y="860.7" width="20.6" height="34.1" fill="#0e0d0e" rx="1.5"/>
<rect x="624" y="861.5" width="19" height="32.5" fill="#d9d9d6" rx="1.5"/>
<rect x="624.6" y="868" width="17.8" height="19.5" fill="#ad9b6c"/>
<rect x="621.6" y="910.9" width="23.4" height="32.4" fill="#0e0d0e" rx="1.5"/>
<rect x="622.4" y="911.7" width="21.8" height="30.8" fill="#d9d9d6" rx="1.5"/>
<rect x="623" y="917.9" width="20.6" height="18.5" fill="#ad9b6c"/>
<rect x="621.6" y="952" width="23.4" height="40.2" fill="#0e0d0e" rx="1.5"/>
<rect x="622.4" y="952.8" width="21.8" height="38.6" fill="#d9d9d6" rx="1.5"/>
<rect x="623" y="960.5" width="20.6" height="23.2" fill="#ad9b6c"/>
<rect x="621.6" y="998.2" width="23.4" height="32.6" fill="#0e0d0e" rx="1.5"/>
<rect x="622.4" y="999" width="21.8" height="31" fill="#d9d9d6" rx="1.5"/>
<rect x="623" y="1005.2" width="20.6" height="18.6" fill="#ad9b6c"/>
</g>
<defs><filter id="sh" x="-10%" y="-10%" width="125%" height="130%"><feGaussianBlur stdDeviation="2.2"/></filter><filter id="ts" x="-5%" y="-20%" width="110%" height="150%"><feGaussianBlur stdDeviation="1.2"/></filter></defs>
<path d="M1027.3 145 L1029 155.4 L928.3 155.4 L928.3 203 M925.5 213.5 L561.4 213.5 L561.4 944.6 L598 944.6" fill="none" stroke="#14a556" stroke-width="1.4"/>
<path d="M1092.5 145 L1095 156 L1095 201.2 L941 201.2 M939.5 213 L939.5 944.5 L612 944.5" fill="none" stroke="#0caeee" stroke-width="1.4"/>
<path d="M1048 145.3 L1061.5 145 M1061.5 156 L1061.5 117.3 L1038 117.3 L1038 855.8 L607.6 855.8 L607.6 900.4 L598 900.4" fill="none" stroke="#f40b12" stroke-width="1.4"/>
<circle cx="1027.3" cy="145.2" r="3" fill="#14a556"/>
<circle cx="1029" cy="155.7" r="3" fill="#14a556"/>
<circle cx="1048" cy="145.4" r="3" fill="#f40b12"/>
<circle cx="1061.6" cy="156" r="3" fill="#f40b12"/>
<circle cx="1092.5" cy="145.2" r="3" fill="#0caeee"/>
<circle cx="1095.2" cy="156" r="3" fill="#0caeee"/>
<circle cx="598" cy="944.6" r="3" fill="#14a556"/>
<circle cx="612" cy="944.6" r="3" fill="#0caeee"/>
<circle cx="929.4" cy="203.8" r="2.4" fill="#14a556"/>
<circle cx="929.4" cy="212.8" r="2.4" fill="#14a556"/>
<circle cx="940.6" cy="203.8" r="2.4" fill="#0caeee"/>
<circle cx="940.6" cy="212.9" r="2.4" fill="#0caeee"/>
<circle cx="607.7" cy="856.3" r="3" fill="#f40b12"/>
<circle cx="598" cy="900.5" r="3" fill="#f40b12"/>
<path d="M561.4 451 L561.4 651" fill="none" stroke="#12a653" stroke-width="4"/>
<path d="M555.6 650 L567.2 650 L561.4 661 Z" fill="#12a653"/>
<path d="M939.5 447.5 L939.5 644" fill="none" stroke="#12a9ea" stroke-width="4.2"/>
<path d="M933.7 643 L945.3 643 L939.5 654 Z" fill="#12a9ea"/>
<path d="M1037.6 755 L1037.6 562" fill="none" stroke="#f04048" stroke-width="3.8"/>
<path d="M1031.6 563 L1043.6 563 L1037.6 550.8 Z" fill="#f04048"/>
<path d="M590.6 850.4 h19 v10.8 h-19 z" fill="none" stroke="#f018f0" stroke-width="1.8"/>
<path d="M623 860.3 h20.8 v34.8 h-20.8 z" fill="none" stroke="#f26b4e" stroke-width="1.6"/>
<rect x="135.5" y="372.0" width="334.1" height="256.1" rx="15" fill="#000" opacity="0.45" filter="url(#sh)"/>
<rect x="134.0" y="369.0" width="334.1" height="256.1" rx="15" fill="#fff" stroke="#f8aa12" stroke-width="4.0"/>
<text text-anchor="middle" font-size="29.33" fill="#f8aa12"><tspan x="300.3" y="412.6">MiiT.vn</tspan><tspan x="300.3" y="445.0">MiiT Solutions Group</tspan></text>
<text text-anchor="middle" font-size="18.67" fill="#000"><tspan x="300.3" y="469.7">Trong thực tế thì lỗi micro trên dây</tspan><tspan x="300.3" y="491.8">rất nhiều chỉ cần thay dây là khắc</tspan><tspan x="300.3" y="513.9">phục được, trường hợp còn lại là do</tspan><tspan x="300.3" y="536.0">bung các cuộn dây ô vàng gần</tspan><tspan x="300.3" y="558.1">socket, chưa thấy audio code lỗi duy</tspan><tspan x="300.3" y="580.2">nhất mic này, audio code lỗi là mất</tspan><tspan x="300.3" y="602.3">hết mic luôn.</tspan></text>
<rect x="586.5" y="694.7" width="329.9" height="111.1" rx="9" fill="#000" opacity="0.45" filter="url(#sh)"/>
<rect x="585.0" y="691.7" width="329.9" height="111.1" rx="9" fill="#fff" stroke="#1ba02f" stroke-width="4.1"/>
<text text-anchor="middle" font-size="18.67" fill="#000"><tspan x="748.6" y="719.4">2</tspan><tspan x="748.6" y="741.5">Micro thu âm và trả tín hiệu về để</tspan><tspan x="748.6" y="763.6">audio code U3700 xuất ra âm thanh</tspan><tspan x="748.6" y="785.7">cho bên kia nghe.</tspan></text>
<rect x="1061.8" y="559.3" width="272.9" height="199.3" rx="10" fill="#000" opacity="0.45" filter="url(#sh)"/>
<rect x="1060.3" y="556.3" width="272.9" height="199.3" rx="10" fill="#fff" stroke="#fb4044" stroke-width="4.0"/>
<text text-anchor="middle" font-size="18.67" fill="#000"><tspan x="1195.3" y="584.2">1</tspan><tspan x="1195.3" y="606.3">Khi quay phim camera trước</tspan><tspan x="1195.3" y="628.4">hoặc thực hiện video call kích</tspan><tspan x="1195.3" y="650.5">hoạt camera trước thì đồng</tspan><tspan x="1195.3" y="672.6">thời kích hoạt micro trên dây</tspan><tspan x="1195.3" y="694.7">camera trước, audio code</tspan><tspan x="1195.3" y="716.8">U3700 xuất áp lên cấp cho</tspan><tspan x="1195.3" y="738.9">mic.</tspan></text>
<g transform="translate(366.0 177.6) scale(1 1.030)">
<text x="1.5" y="2" font-size="26.67" fill="#000" opacity="0.55" filter="url(#ts)">ICFix Team</text>
<text x="0" y="0" font-size="26.67" fill="#b4fbff" stroke="#10d8ea" stroke-width="1.7" paint-order="stroke" stroke-linejoin="round">ICFix Team</text>
</g>
<g transform="translate(1064.6 483.0) scale(1 1.070)">
<text x="1.5" y="2" font-size="27.15" fill="#000" opacity="0.55" filter="url(#ts)">MiiT Solutions Group</text>
<text x="0" y="0" font-size="27.15" fill="#e2ffff" stroke="#10d8ea" stroke-width="1.7" paint-order="stroke" stroke-linejoin="round">MiiT Solutions Group</text>
</g>
<text x="947.0" y="883.0" font-size="24.00" fill="#000" opacity="0.6" filter="url(#ts)">PP_CODEC_TO_FRONTMIC3_BIAS</text>
<text x="945.5" y="881.0" font-size="24.00" fill="#f20d0d" stroke="#000" stroke-width="3.8" paint-order="stroke" stroke-linejoin="round">PP_CODEC_TO_FRONTMIC3_BIAS</text>
<text x="622.5" y="918.7" font-size="24.00" fill="#000" opacity="0.6" filter="url(#ts)">FRONTMIC3_BIAS_FILT_IN</text>
<text x="621.0" y="916.7" font-size="24.00" fill="#f26b4e" stroke="#000" stroke-width="3.8" paint-order="stroke" stroke-linejoin="round">FRONTMIC3_BIAS_FILT_IN</text>
<text x="633.5" y="973.3" font-size="24.00" fill="#000" opacity="0.6" filter="url(#ts)">FRONTMIC3_TO_CODEC_AIN3_N</text>
<text x="632.0" y="971.3" font-size="24.00" fill="#00a2e8" stroke="#000" stroke-width="3.8" paint-order="stroke" stroke-linejoin="round">FRONTMIC3_TO_CODEC_AIN3_N</text>
<text x="563.5" y="1005.0" font-size="24.00" fill="#000" opacity="0.6" filter="url(#ts)">FRONTMIC3_TO_CODEC_AIN3_P</text>
<text x="562.0" y="1003.0" font-size="24.00" fill="#00a651" stroke="#000" stroke-width="3.8" paint-order="stroke" stroke-linejoin="round">FRONTMIC3_TO_CODEC_AIN3_P</text>
<text x="1192.9" y="201.8" font-size="24.00" fill="#000" opacity="0.6" filter="url(#ts)">J4200</text>
<text x="1191.4" y="199.8" font-size="24.00" fill="#19b4ea" stroke="#000" stroke-width="2.2" paint-order="stroke" stroke-linejoin="round">J4200</text>
<text x="287.6" y="824" font-size="23.5" fill="#00b4f0">U2700</text>
<text x="478.4" y="979.3" font-size="23.5" fill="#19b4ea">U3700</text>
</svg>

</body></html>
